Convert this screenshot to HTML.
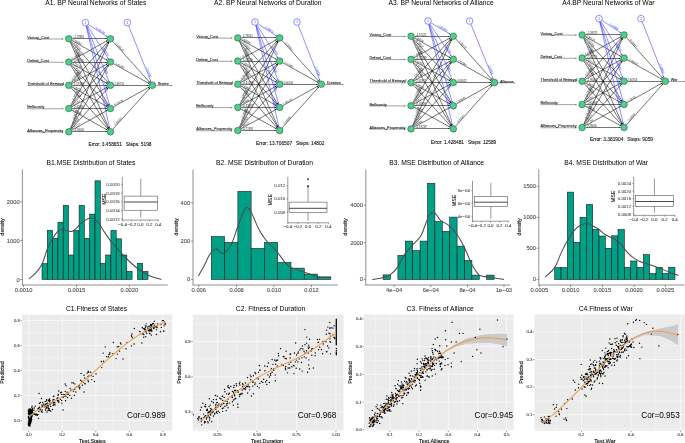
<!DOCTYPE html>
<html><head><meta charset="utf-8"><title>BP Neural Networks</title>
<style>html,body{margin:0;padding:0;background:#fff;width:685px;height:443px;overflow:hidden}svg{display:block;will-change:transform}text{font-family:"Liberation Sans",sans-serif}</style>
</head><body>
<svg width="685" height="443" viewBox="0 0 685 443" font-family='"Liberation Sans", sans-serif'><line x1="27.2" y1="39" x2="63.4" y2="39" stroke="#555" stroke-width="0.55"/>
<path d="M63.4 39 L62 38.4 L62 39.6Z" fill="#555"/>
<text x="27.2" y="38.7" font-size="3.9" text-anchor="start" fill="#222" stroke="#222" stroke-width="0.1">Victory_Cost</text>
<line x1="27.2" y1="62.25" x2="63.4" y2="62.25" stroke="#555" stroke-width="0.55"/>
<path d="M63.4 62.25 L62 61.65 L62 62.85Z" fill="#555"/>
<text x="27.2" y="61.95" font-size="3.9" text-anchor="start" fill="#222" stroke="#222" stroke-width="0.1">Defeat_Cost</text>
<line x1="27.2" y1="85.5" x2="63.4" y2="85.5" stroke="#555" stroke-width="0.55"/>
<path d="M63.4 85.5 L62 84.9 L62 86.1Z" fill="#555"/>
<text x="27.2" y="85.2" font-size="3.9" text-anchor="start" fill="#222" stroke="#222" stroke-width="0.1">Threshold of Betrayal</text>
<line x1="27.2" y1="108.75" x2="63.4" y2="108.75" stroke="#555" stroke-width="0.55"/>
<path d="M63.4 108.75 L62 108.15 L62 109.35Z" fill="#555"/>
<text x="27.2" y="108.45" font-size="3.9" text-anchor="start" fill="#222" stroke="#222" stroke-width="0.1">Bellicosity</text>
<line x1="27.2" y1="132" x2="63.4" y2="132" stroke="#555" stroke-width="0.55"/>
<path d="M63.4 132 L62 131.4 L62 132.6Z" fill="#555"/>
<text x="27.2" y="131.7" font-size="3.9" text-anchor="start" fill="#222" stroke="#222" stroke-width="0.1">Alliances_Propensity</text>
<line x1="72.3" y1="38.5" x2="107" y2="38.5" stroke="#000" stroke-width="0.55"/>
<path d="M107 38.5 L105.5 37.9 L105.5 39.1Z" fill="#000"/>
<line x1="71.86" y1="40.5" x2="107.44" y2="60.35" stroke="#000" stroke-width="0.55"/>
<path d="M107.44 60.35 L106.43 59.09 L105.84 60.14Z" fill="#000"/>
<line x1="71.14" y1="41.41" x2="108.16" y2="82.69" stroke="#000" stroke-width="0.55"/>
<path d="M108.16 82.69 L107.61 81.18 L106.72 81.98Z" fill="#000"/>
<line x1="70.6" y1="41.8" x2="108.7" y2="105.55" stroke="#000" stroke-width="0.55"/>
<path d="M108.7 105.55 L108.45 103.95 L107.42 104.57Z" fill="#000"/>
<line x1="70.23" y1="41.99" x2="109.07" y2="128.61" stroke="#000" stroke-width="0.55"/>
<path d="M109.07 128.61 L109 126.99 L107.91 127.48Z" fill="#000"/>
<line x1="71.86" y1="60.35" x2="107.44" y2="40.5" stroke="#000" stroke-width="0.55"/>
<path d="M107.44 40.5 L105.84 40.71 L106.43 41.76Z" fill="#000"/>
<line x1="72.3" y1="62.5" x2="107" y2="62.5" stroke="#000" stroke-width="0.55"/>
<path d="M107 62.5 L105.5 61.9 L105.5 63.1Z" fill="#000"/>
<line x1="71.86" y1="63.75" x2="107.44" y2="83.6" stroke="#000" stroke-width="0.55"/>
<path d="M107.44 83.6 L106.43 82.34 L105.84 83.39Z" fill="#000"/>
<line x1="71.14" y1="64.66" x2="108.16" y2="105.94" stroke="#000" stroke-width="0.55"/>
<path d="M108.16 105.94 L107.61 104.43 L106.72 105.23Z" fill="#000"/>
<line x1="70.6" y1="65.05" x2="108.7" y2="128.8" stroke="#000" stroke-width="0.55"/>
<path d="M108.7 128.8 L108.45 127.2 L107.42 127.82Z" fill="#000"/>
<line x1="71.14" y1="82.69" x2="108.16" y2="41.41" stroke="#000" stroke-width="0.55"/>
<path d="M108.16 41.41 L106.72 42.12 L107.61 42.92Z" fill="#000"/>
<line x1="71.86" y1="83.6" x2="107.44" y2="63.75" stroke="#000" stroke-width="0.55"/>
<path d="M107.44 63.75 L105.84 63.96 L106.43 65.01Z" fill="#000"/>
<line x1="72.3" y1="85.5" x2="107" y2="85.5" stroke="#000" stroke-width="0.55"/>
<path d="M107 85.5 L105.5 84.9 L105.5 86.1Z" fill="#000"/>
<line x1="71.86" y1="87" x2="107.44" y2="106.85" stroke="#000" stroke-width="0.55"/>
<path d="M107.44 106.85 L106.43 105.59 L105.84 106.64Z" fill="#000"/>
<line x1="71.14" y1="87.91" x2="108.16" y2="129.19" stroke="#000" stroke-width="0.55"/>
<path d="M108.16 129.19 L107.61 127.68 L106.72 128.48Z" fill="#000"/>
<line x1="70.6" y1="105.55" x2="108.7" y2="41.8" stroke="#000" stroke-width="0.55"/>
<path d="M108.7 41.8 L107.42 42.78 L108.45 43.4Z" fill="#000"/>
<line x1="71.14" y1="105.94" x2="108.16" y2="64.66" stroke="#000" stroke-width="0.55"/>
<path d="M108.16 64.66 L106.72 65.37 L107.61 66.17Z" fill="#000"/>
<line x1="71.86" y1="106.85" x2="107.44" y2="87" stroke="#000" stroke-width="0.55"/>
<path d="M107.44 87 L105.84 87.21 L106.43 88.26Z" fill="#000"/>
<line x1="72.3" y1="108.5" x2="107" y2="108.5" stroke="#000" stroke-width="0.55"/>
<path d="M107 108.5 L105.5 107.9 L105.5 109.1Z" fill="#000"/>
<line x1="71.86" y1="110.25" x2="107.44" y2="130.1" stroke="#000" stroke-width="0.55"/>
<path d="M107.44 130.1 L106.43 128.84 L105.84 129.89Z" fill="#000"/>
<line x1="70.23" y1="128.61" x2="109.07" y2="41.99" stroke="#000" stroke-width="0.55"/>
<path d="M109.07 41.99 L107.91 43.12 L109 43.61Z" fill="#000"/>
<line x1="70.6" y1="128.8" x2="108.7" y2="65.05" stroke="#000" stroke-width="0.55"/>
<path d="M108.7 65.05 L107.42 66.03 L108.45 66.65Z" fill="#000"/>
<line x1="71.14" y1="129.19" x2="108.16" y2="87.91" stroke="#000" stroke-width="0.55"/>
<path d="M108.16 87.91 L106.72 88.62 L107.61 89.42Z" fill="#000"/>
<line x1="71.86" y1="130.1" x2="107.44" y2="110.25" stroke="#000" stroke-width="0.55"/>
<path d="M107.44 110.25 L105.84 110.46 L106.43 111.51Z" fill="#000"/>
<line x1="72.3" y1="131.5" x2="107" y2="131.5" stroke="#000" stroke-width="0.55"/>
<path d="M107 131.5 L105.5 130.9 L105.5 132.1Z" fill="#000"/>
<text x="78.81" y="38.3" font-size="2.7" text-anchor="middle" fill="#222" transform="rotate(0 78.81 38.3)">-2.19381</text>
<text x="76.55" y="42.55" font-size="2.7" text-anchor="middle" fill="#222" transform="rotate(29.14 76.55 42.55)">2.08460</text>
<text x="76.68" y="46.84" font-size="2.7" text-anchor="middle" fill="#222" transform="rotate(48.12 76.68 46.84)">1.58265</text>
<text x="76.74" y="51.1" font-size="2.7" text-anchor="middle" fill="#222" transform="rotate(59.13 76.74 51.1)">-1.46959</text>
<text x="76.76" y="55.34" font-size="2.7" text-anchor="middle" fill="#222" transform="rotate(65.85 76.76 55.34)">-0.02739</text>
<text x="76.06" y="57.43" font-size="2.7" text-anchor="middle" fill="#222" transform="rotate(-29.14 76.06 57.43)">-0.30305</text>
<text x="78.81" y="61.55" font-size="2.7" text-anchor="middle" fill="#222" transform="rotate(0 78.81 61.55)">0.90956</text>
<text x="76.55" y="65.8" font-size="2.7" text-anchor="middle" fill="#222" transform="rotate(29.14 76.55 65.8)">1.73234</text>
<text x="76.68" y="70.09" font-size="2.7" text-anchor="middle" fill="#222" transform="rotate(48.12 76.68 70.09)">-2.43684</text>
<text x="76.74" y="74.35" font-size="2.7" text-anchor="middle" fill="#222" transform="rotate(59.13 76.74 74.35)">-2.82992</text>
<text x="75.93" y="76.6" font-size="2.7" text-anchor="middle" fill="#222" transform="rotate(-48.12 75.93 76.6)">2.01459</text>
<text x="76.06" y="80.68" font-size="2.7" text-anchor="middle" fill="#222" transform="rotate(-29.14 76.06 80.68)">-0.40340</text>
<text x="78.81" y="84.8" font-size="2.7" text-anchor="middle" fill="#222" transform="rotate(0 78.81 84.8)">1.57368</text>
<text x="76.55" y="89.05" font-size="2.7" text-anchor="middle" fill="#222" transform="rotate(29.14 76.55 89.05)">-2.98736</text>
<text x="76.68" y="93.34" font-size="2.7" text-anchor="middle" fill="#222" transform="rotate(48.12 76.68 93.34)">-0.32768</text>
<text x="75.88" y="95.74" font-size="2.7" text-anchor="middle" fill="#222" transform="rotate(-59.13 75.88 95.74)">1.32924</text>
<text x="75.93" y="99.85" font-size="2.7" text-anchor="middle" fill="#222" transform="rotate(-48.12 75.93 99.85)">-1.62743</text>
<text x="76.06" y="103.93" font-size="2.7" text-anchor="middle" fill="#222" transform="rotate(-29.14 76.06 103.93)">2.67162</text>
<text x="78.81" y="108.05" font-size="2.7" text-anchor="middle" fill="#222" transform="rotate(0 78.81 108.05)">2.40856</text>
<text x="76.55" y="112.3" font-size="2.7" text-anchor="middle" fill="#222" transform="rotate(29.14 76.55 112.3)">-2.81646</text>
<text x="75.85" y="114.86" font-size="2.7" text-anchor="middle" fill="#222" transform="rotate(-65.85 75.85 114.86)">-2.84732</text>
<text x="75.88" y="118.99" font-size="2.7" text-anchor="middle" fill="#222" transform="rotate(-59.13 75.88 118.99)">0.24847</text>
<text x="75.93" y="123.1" font-size="2.7" text-anchor="middle" fill="#222" transform="rotate(-48.12 75.93 123.1)">2.63489</text>
<text x="76.06" y="127.18" font-size="2.7" text-anchor="middle" fill="#222" transform="rotate(-29.14 76.06 127.18)">-0.71277</text>
<text x="78.81" y="131.3" font-size="2.7" text-anchor="middle" fill="#222" transform="rotate(0 78.81 131.3)">-1.70040</text>
<line x1="88.34" y1="24.5" x2="107.56" y2="36.9" stroke="#2222ff" stroke-width="0.5"/>
<path d="M107.56 36.9 L106.62 35.58 L105.97 36.59Z" fill="#2222ff"/>
<text x="99.48" y="31.09" font-size="2.7" text-anchor="middle" fill="#2222ff" transform="rotate(32.84 99.48 31.09)">-0.46730</text>
<line x1="87.28" y1="25.55" x2="108.62" y2="59.1" stroke="#2222ff" stroke-width="0.5"/>
<path d="M108.62 59.1 L108.32 57.51 L107.31 58.15Z" fill="#2222ff"/>
<text x="104.65" y="51.92" font-size="2.7" text-anchor="middle" fill="#2222ff" transform="rotate(57.53 104.65 51.92)">-2.82576</text>
<line x1="86.7" y1="25.85" x2="109.2" y2="82.05" stroke="#2222ff" stroke-width="0.5"/>
<path d="M109.2 82.05 L109.2 80.44 L108.08 80.88Z" fill="#2222ff"/>
<text x="104.69" y="69.44" font-size="2.7" text-anchor="middle" fill="#2222ff" transform="rotate(68.18 104.69 69.44)">-1.66985</text>
<line x1="86.38" y1="25.96" x2="109.52" y2="105.19" stroke="#2222ff" stroke-width="0.5"/>
<path d="M109.52 105.19 L109.67 103.58 L108.52 103.92Z" fill="#2222ff"/>
<text x="104.7" y="86.92" font-size="2.7" text-anchor="middle" fill="#2222ff" transform="rotate(73.72 104.7 86.92)">-0.37267</text>
<line x1="86.18" y1="26.01" x2="109.72" y2="128.39" stroke="#2222ff" stroke-width="0.5"/>
<path d="M109.72 128.39 L109.96 126.79 L108.8 127.06Z" fill="#2222ff"/>
<text x="104.71" y="104.39" font-size="2.7" text-anchor="middle" fill="#2222ff" transform="rotate(77.06 104.71 104.39)">-0.02513</text>
<line x1="112.84" y1="41.4" x2="150.06" y2="82.7" stroke="#000" stroke-width="0.55"/>
<path d="M150.06 82.7 L149.5 81.18 L148.61 81.99Z" fill="#000"/>
<text x="119.25" y="47.77" font-size="2.7" text-anchor="middle" fill="#222" transform="rotate(47.98 119.25 47.77)">-1.60149</text>
<line x1="113.56" y1="63.75" x2="149.34" y2="83.6" stroke="#000" stroke-width="0.55"/>
<path d="M149.34 83.6 L148.32 82.35 L147.74 83.4Z" fill="#000"/>
<text x="119.12" y="66.26" font-size="2.7" text-anchor="middle" fill="#222" transform="rotate(29.03 119.12 66.26)">-1.61480</text>
<line x1="114" y1="85.5" x2="148.9" y2="85.5" stroke="#000" stroke-width="0.55"/>
<path d="M148.9 85.5 L147.4 84.9 L147.4 86.1Z" fill="#000"/>
<text x="118.88" y="85" font-size="2.7" text-anchor="middle" fill="#222" transform="rotate(0 118.88 85)">-1.68731</text>
<line x1="113.56" y1="106.85" x2="149.34" y2="87" stroke="#000" stroke-width="0.55"/>
<path d="M149.34 87 L147.74 87.2 L148.32 88.25Z" fill="#000"/>
<text x="118.64" y="103.46" font-size="2.7" text-anchor="middle" fill="#222" transform="rotate(-29.03 118.64 103.46)">-0.24238</text>
<line x1="112.84" y1="129.2" x2="150.06" y2="87.9" stroke="#000" stroke-width="0.55"/>
<path d="M150.06 87.9 L148.61 88.61 L149.5 89.42Z" fill="#000"/>
<text x="118.51" y="122.17" font-size="2.7" text-anchor="middle" fill="#222" transform="rotate(-47.98 118.51 122.17)">-1.26131</text>
<line x1="128.6" y1="25.85" x2="151.1" y2="82.05" stroke="#2222ff" stroke-width="0.5"/>
<path d="M151.1 82.05 L151.1 80.44 L149.98 80.88Z" fill="#2222ff"/>
<text x="147.84" y="72.57" font-size="2.7" text-anchor="middle" fill="#2222ff" transform="rotate(68.18 147.84 72.57)">-2.87106</text>
<line x1="155.9" y1="85.6" x2="172.2" y2="85.6" stroke="#555" stroke-width="0.55"/>
<path d="M172.2 85.6 L170.8 85 L170.8 86.2Z" fill="#555"/>
<text x="157.8" y="85.4" font-size="3.8" text-anchor="start" fill="#222" stroke="#222" stroke-width="0.1">States</text>
<circle cx="68.8" cy="38.8" r="3.25" fill="#4fcf8a" stroke="#1f5a38" stroke-width="0.6"/>
<circle cx="110.5" cy="38.8" r="3.25" fill="#4fcf8a" stroke="#1f5a38" stroke-width="0.6"/>
<circle cx="68.8" cy="62.05" r="3.25" fill="#4fcf8a" stroke="#1f5a38" stroke-width="0.6"/>
<circle cx="110.5" cy="62.05" r="3.25" fill="#4fcf8a" stroke="#1f5a38" stroke-width="0.6"/>
<circle cx="68.8" cy="85.3" r="3.25" fill="#4fcf8a" stroke="#1f5a38" stroke-width="0.6"/>
<circle cx="110.5" cy="85.3" r="3.25" fill="#4fcf8a" stroke="#1f5a38" stroke-width="0.6"/>
<circle cx="68.8" cy="108.55" r="3.25" fill="#4fcf8a" stroke="#1f5a38" stroke-width="0.6"/>
<circle cx="110.5" cy="108.55" r="3.25" fill="#4fcf8a" stroke="#1f5a38" stroke-width="0.6"/>
<circle cx="68.8" cy="131.8" r="3.25" fill="#4fcf8a" stroke="#1f5a38" stroke-width="0.6"/>
<circle cx="110.5" cy="131.8" r="3.25" fill="#4fcf8a" stroke="#1f5a38" stroke-width="0.6"/>
<circle cx="152.4" cy="85.3" r="3.25" fill="#4fcf8a" stroke="#1f5a38" stroke-width="0.6"/>
<circle cx="85.4" cy="22.6" r="3.3" fill="#fff" stroke="#2222ff" stroke-width="0.5"/>
<text x="85.4" y="23.6" font-size="2.8" text-anchor="middle" fill="#2222ff">1</text>
<circle cx="127.3" cy="22.6" r="3.3" fill="#fff" stroke="#2222ff" stroke-width="0.5"/>
<text x="127.3" y="23.6" font-size="2.8" text-anchor="middle" fill="#2222ff">1</text>
<text x="95.9" y="5" font-size="6.75" text-anchor="middle" fill="#000">A1. BP Neural Networks of States</text>
<text x="120" y="145.6" font-size="4.8" text-anchor="middle" fill="#111" stroke="#111" stroke-width="0.1" xml:space="preserve">Error: 3.458651   Steps: 5198</text>
<line x1="196.2" y1="38.1" x2="232.4" y2="38.1" stroke="#555" stroke-width="0.55"/>
<path d="M232.4 38.1 L231 37.5 L231 38.7Z" fill="#555"/>
<text x="196.2" y="37.8" font-size="3.9" text-anchor="start" fill="#222" stroke="#222" stroke-width="0.1">Victory_Cost</text>
<line x1="196.2" y1="61.27" x2="232.4" y2="61.27" stroke="#555" stroke-width="0.55"/>
<path d="M232.4 61.27 L231 60.67 L231 61.87Z" fill="#555"/>
<text x="196.2" y="60.97" font-size="3.9" text-anchor="start" fill="#222" stroke="#222" stroke-width="0.1">Defeat_Cost</text>
<line x1="196.2" y1="84.44" x2="232.4" y2="84.44" stroke="#555" stroke-width="0.55"/>
<path d="M232.4 84.44 L231 83.84 L231 85.04Z" fill="#555"/>
<text x="196.2" y="84.14" font-size="3.9" text-anchor="start" fill="#222" stroke="#222" stroke-width="0.1">Threshold of Betrayal</text>
<line x1="196.2" y1="107.61" x2="232.4" y2="107.61" stroke="#555" stroke-width="0.55"/>
<path d="M232.4 107.61 L231 107.01 L231 108.21Z" fill="#555"/>
<text x="196.2" y="107.31" font-size="3.9" text-anchor="start" fill="#222" stroke="#222" stroke-width="0.1">Bellicosity</text>
<line x1="196.2" y1="130.78" x2="232.4" y2="130.78" stroke="#555" stroke-width="0.55"/>
<path d="M232.4 130.78 L231 130.18 L231 131.38Z" fill="#555"/>
<text x="196.2" y="130.48" font-size="3.9" text-anchor="start" fill="#222" stroke="#222" stroke-width="0.1">Alliances_Propensity</text>
<line x1="241.3" y1="37.5" x2="276.2" y2="37.5" stroke="#000" stroke-width="0.55"/>
<path d="M276.2 37.5 L274.7 36.9 L274.7 38.1Z" fill="#000"/>
<line x1="240.86" y1="39.59" x2="276.64" y2="59.38" stroke="#000" stroke-width="0.55"/>
<path d="M276.64 59.38 L275.61 58.13 L275.03 59.18Z" fill="#000"/>
<line x1="240.15" y1="40.5" x2="277.35" y2="81.64" stroke="#000" stroke-width="0.55"/>
<path d="M277.35 81.64 L276.79 80.13 L275.9 80.93Z" fill="#000"/>
<line x1="239.61" y1="40.9" x2="277.89" y2="104.41" stroke="#000" stroke-width="0.55"/>
<path d="M277.89 104.41 L277.63 102.82 L276.6 103.44Z" fill="#000"/>
<line x1="239.24" y1="41.09" x2="278.26" y2="127.39" stroke="#000" stroke-width="0.55"/>
<path d="M278.26 127.39 L278.19 125.78 L277.09 126.27Z" fill="#000"/>
<line x1="240.86" y1="59.38" x2="276.64" y2="39.59" stroke="#000" stroke-width="0.55"/>
<path d="M276.64 39.59 L275.03 39.79 L275.61 40.84Z" fill="#000"/>
<line x1="241.3" y1="61.5" x2="276.2" y2="61.5" stroke="#000" stroke-width="0.55"/>
<path d="M276.2 61.5 L274.7 60.9 L274.7 62.1Z" fill="#000"/>
<line x1="240.86" y1="62.76" x2="276.64" y2="82.55" stroke="#000" stroke-width="0.55"/>
<path d="M276.64 82.55 L275.61 81.3 L275.03 82.35Z" fill="#000"/>
<line x1="240.15" y1="63.67" x2="277.35" y2="104.81" stroke="#000" stroke-width="0.55"/>
<path d="M277.35 104.81 L276.79 103.3 L275.9 104.1Z" fill="#000"/>
<line x1="239.61" y1="64.07" x2="277.89" y2="127.58" stroke="#000" stroke-width="0.55"/>
<path d="M277.89 127.58 L277.63 125.99 L276.6 126.61Z" fill="#000"/>
<line x1="240.15" y1="81.64" x2="277.35" y2="40.5" stroke="#000" stroke-width="0.55"/>
<path d="M277.35 40.5 L275.9 41.21 L276.79 42.01Z" fill="#000"/>
<line x1="240.86" y1="82.55" x2="276.64" y2="62.76" stroke="#000" stroke-width="0.55"/>
<path d="M276.64 62.76 L275.03 62.96 L275.61 64.01Z" fill="#000"/>
<line x1="241.3" y1="84.5" x2="276.2" y2="84.5" stroke="#000" stroke-width="0.55"/>
<path d="M276.2 84.5 L274.7 83.9 L274.7 85.1Z" fill="#000"/>
<line x1="240.86" y1="85.93" x2="276.64" y2="105.72" stroke="#000" stroke-width="0.55"/>
<path d="M276.64 105.72 L275.61 104.47 L275.03 105.52Z" fill="#000"/>
<line x1="240.15" y1="86.84" x2="277.35" y2="127.98" stroke="#000" stroke-width="0.55"/>
<path d="M277.35 127.98 L276.79 126.47 L275.9 127.27Z" fill="#000"/>
<line x1="239.61" y1="104.41" x2="277.89" y2="40.9" stroke="#000" stroke-width="0.55"/>
<path d="M277.89 40.9 L276.6 41.87 L277.63 42.49Z" fill="#000"/>
<line x1="240.15" y1="104.81" x2="277.35" y2="63.67" stroke="#000" stroke-width="0.55"/>
<path d="M277.35 63.67 L275.9 64.38 L276.79 65.18Z" fill="#000"/>
<line x1="240.86" y1="105.72" x2="276.64" y2="85.93" stroke="#000" stroke-width="0.55"/>
<path d="M276.64 85.93 L275.03 86.13 L275.61 87.18Z" fill="#000"/>
<line x1="241.3" y1="107.5" x2="276.2" y2="107.5" stroke="#000" stroke-width="0.55"/>
<path d="M276.2 107.5 L274.7 106.9 L274.7 108.1Z" fill="#000"/>
<line x1="240.86" y1="109.1" x2="276.64" y2="128.89" stroke="#000" stroke-width="0.55"/>
<path d="M276.64 128.89 L275.61 127.64 L275.03 128.69Z" fill="#000"/>
<line x1="239.24" y1="127.39" x2="278.26" y2="41.09" stroke="#000" stroke-width="0.55"/>
<path d="M278.26 41.09 L277.09 42.21 L278.19 42.7Z" fill="#000"/>
<line x1="239.61" y1="127.58" x2="277.89" y2="64.07" stroke="#000" stroke-width="0.55"/>
<path d="M277.89 64.07 L276.6 65.04 L277.63 65.66Z" fill="#000"/>
<line x1="240.15" y1="127.98" x2="277.35" y2="86.84" stroke="#000" stroke-width="0.55"/>
<path d="M277.35 86.84 L275.9 87.55 L276.79 88.35Z" fill="#000"/>
<line x1="240.86" y1="128.89" x2="276.64" y2="109.1" stroke="#000" stroke-width="0.55"/>
<path d="M276.64 109.1 L275.03 109.3 L275.61 110.35Z" fill="#000"/>
<line x1="241.3" y1="130.5" x2="276.2" y2="130.5" stroke="#000" stroke-width="0.55"/>
<path d="M276.2 130.5 L274.7 129.9 L274.7 131.1Z" fill="#000"/>
<text x="247.86" y="37.4" font-size="2.7" text-anchor="middle" fill="#222" transform="rotate(0 247.86 37.4)">2.73621</text>
<text x="245.58" y="41.63" font-size="2.7" text-anchor="middle" fill="#222" transform="rotate(28.94 245.58 41.63)">2.68696</text>
<text x="245.71" y="45.91" font-size="2.7" text-anchor="middle" fill="#222" transform="rotate(47.88 245.71 45.91)">-2.66069</text>
<text x="245.77" y="50.15" font-size="2.7" text-anchor="middle" fill="#222" transform="rotate(58.92 245.77 50.15)">-2.49077</text>
<text x="245.8" y="54.38" font-size="2.7" text-anchor="middle" fill="#222" transform="rotate(65.67 245.8 54.38)">2.01299</text>
<text x="245.1" y="56.46" font-size="2.7" text-anchor="middle" fill="#222" transform="rotate(-28.94 245.1 56.46)">1.41582</text>
<text x="247.86" y="60.57" font-size="2.7" text-anchor="middle" fill="#222" transform="rotate(0 247.86 60.57)">1.01838</text>
<text x="245.58" y="64.8" font-size="2.7" text-anchor="middle" fill="#222" transform="rotate(28.94 245.58 64.8)">-1.15118</text>
<text x="245.71" y="69.08" font-size="2.7" text-anchor="middle" fill="#222" transform="rotate(47.88 245.71 69.08)">0.63566</text>
<text x="245.77" y="73.32" font-size="2.7" text-anchor="middle" fill="#222" transform="rotate(58.92 245.77 73.32)">0.64081</text>
<text x="244.97" y="75.56" font-size="2.7" text-anchor="middle" fill="#222" transform="rotate(-47.88 244.97 75.56)">0.48722</text>
<text x="245.1" y="79.63" font-size="2.7" text-anchor="middle" fill="#222" transform="rotate(-28.94 245.1 79.63)">-2.04970</text>
<text x="247.86" y="83.74" font-size="2.7" text-anchor="middle" fill="#222" transform="rotate(0 247.86 83.74)">-0.41598</text>
<text x="245.58" y="87.97" font-size="2.7" text-anchor="middle" fill="#222" transform="rotate(28.94 245.58 87.97)">-0.63881</text>
<text x="245.71" y="92.25" font-size="2.7" text-anchor="middle" fill="#222" transform="rotate(47.88 245.71 92.25)">1.33807</text>
<text x="244.91" y="94.64" font-size="2.7" text-anchor="middle" fill="#222" transform="rotate(-58.92 244.91 94.64)">2.96892</text>
<text x="244.97" y="98.73" font-size="2.7" text-anchor="middle" fill="#222" transform="rotate(-47.88 244.97 98.73)">2.69637</text>
<text x="245.1" y="102.8" font-size="2.7" text-anchor="middle" fill="#222" transform="rotate(-28.94 245.1 102.8)">0.26506</text>
<text x="247.86" y="106.91" font-size="2.7" text-anchor="middle" fill="#222" transform="rotate(0 247.86 106.91)">-0.33087</text>
<text x="245.58" y="111.14" font-size="2.7" text-anchor="middle" fill="#222" transform="rotate(28.94 245.58 111.14)">-1.39056</text>
<text x="244.89" y="113.69" font-size="2.7" text-anchor="middle" fill="#222" transform="rotate(-65.67 244.89 113.69)">-2.78445</text>
<text x="244.91" y="117.81" font-size="2.7" text-anchor="middle" fill="#222" transform="rotate(-58.92 244.91 117.81)">-2.83533</text>
<text x="244.97" y="121.9" font-size="2.7" text-anchor="middle" fill="#222" transform="rotate(-47.88 244.97 121.9)">-0.21064</text>
<text x="245.1" y="125.97" font-size="2.7" text-anchor="middle" fill="#222" transform="rotate(-28.94 245.1 125.97)">-1.08921</text>
<text x="247.86" y="130.08" font-size="2.7" text-anchor="middle" fill="#222" transform="rotate(0 247.86 130.08)">-0.71991</text>
<line x1="257.94" y1="23.89" x2="276.76" y2="36.01" stroke="#2222ff" stroke-width="0.5"/>
<path d="M276.76 36.01 L275.82 34.69 L275.17 35.7Z" fill="#2222ff"/>
<text x="268.86" y="30.32" font-size="2.7" text-anchor="middle" fill="#2222ff" transform="rotate(32.77 268.86 30.32)">2.35074</text>
<line x1="256.87" y1="24.96" x2="277.83" y2="58.11" stroke="#2222ff" stroke-width="0.5"/>
<path d="M277.83 58.11 L277.54 56.52 L276.52 57.16Z" fill="#2222ff"/>
<text x="273.95" y="51.04" font-size="2.7" text-anchor="middle" fill="#2222ff" transform="rotate(57.7 273.95 51.04)">0.15452</text>
<line x1="256.29" y1="25.25" x2="278.41" y2="80.99" stroke="#2222ff" stroke-width="0.5"/>
<path d="M278.41 80.99 L278.41 79.37 L277.3 79.81Z" fill="#2222ff"/>
<text x="273.99" y="68.5" font-size="2.7" text-anchor="middle" fill="#2222ff" transform="rotate(68.35 273.99 68.5)">0.36306</text>
<line x1="255.97" y1="25.36" x2="278.73" y2="104.05" stroke="#2222ff" stroke-width="0.5"/>
<path d="M278.73 104.05 L278.89 102.44 L277.73 102.77Z" fill="#2222ff"/>
<text x="274.01" y="85.92" font-size="2.7" text-anchor="middle" fill="#2222ff" transform="rotate(73.87 274.01 85.92)">-1.58326</text>
<line x1="255.78" y1="25.41" x2="278.92" y2="127.17" stroke="#2222ff" stroke-width="0.5"/>
<path d="M278.92 127.17 L279.18 125.57 L278.01 125.84Z" fill="#2222ff"/>
<text x="274.01" y="103.32" font-size="2.7" text-anchor="middle" fill="#2222ff" transform="rotate(77.18 274.01 103.32)">-2.85685</text>
<line x1="282.04" y1="40.5" x2="318.96" y2="81.6" stroke="#000" stroke-width="0.55"/>
<path d="M318.96 81.6 L318.4 80.08 L317.51 80.88Z" fill="#000"/>
<text x="288.39" y="46.83" font-size="2.7" text-anchor="middle" fill="#222" transform="rotate(48.06 288.39 46.83)">-1.04914</text>
<line x1="282.76" y1="62.77" x2="318.24" y2="82.5" stroke="#000" stroke-width="0.55"/>
<path d="M318.24 82.5 L317.22 81.25 L316.64 82.29Z" fill="#000"/>
<text x="288.26" y="65.26" font-size="2.7" text-anchor="middle" fill="#222" transform="rotate(29.07 288.26 65.26)">-2.17982</text>
<line x1="283.2" y1="84.5" x2="317.8" y2="84.5" stroke="#000" stroke-width="0.55"/>
<path d="M317.8 84.5 L316.3 83.9 L316.3 85.1Z" fill="#000"/>
<text x="288.02" y="84" font-size="2.7" text-anchor="middle" fill="#222" transform="rotate(0 288.02 84)">0.06134</text>
<line x1="282.76" y1="105.7" x2="318.24" y2="85.91" stroke="#000" stroke-width="0.55"/>
<path d="M318.24 85.91 L316.64 86.11 L317.23 87.16Z" fill="#000"/>
<text x="287.78" y="102.33" font-size="2.7" text-anchor="middle" fill="#222" transform="rotate(-29.16 287.78 102.33)">2.99210</text>
<line x1="282.04" y1="127.97" x2="318.96" y2="86.81" stroke="#000" stroke-width="0.55"/>
<path d="M318.96 86.81 L317.51 87.52 L318.41 88.32Z" fill="#000"/>
<text x="287.65" y="120.97" font-size="2.7" text-anchor="middle" fill="#222" transform="rotate(-48.11 287.65 120.97)">1.04688</text>
<line x1="298.27" y1="25.26" x2="320.03" y2="80.94" stroke="#2222ff" stroke-width="0.5"/>
<path d="M320.03 80.94 L320.04 79.32 L318.92 79.76Z" fill="#2222ff"/>
<text x="316.91" y="71.58" font-size="2.7" text-anchor="middle" fill="#2222ff" transform="rotate(68.66 316.91 71.58)">-1.90894</text>
<line x1="324.8" y1="84.5" x2="343.3" y2="84.5" stroke="#555" stroke-width="0.55"/>
<path d="M343.3 84.5 L341.9 83.9 L341.9 85.1Z" fill="#555"/>
<text x="326.7" y="84.3" font-size="3.8" text-anchor="start" fill="#222" stroke="#222" stroke-width="0.1">Duration</text>
<circle cx="237.8" cy="37.9" r="3.25" fill="#4fcf8a" stroke="#1f5a38" stroke-width="0.6"/>
<circle cx="279.7" cy="37.9" r="3.25" fill="#4fcf8a" stroke="#1f5a38" stroke-width="0.6"/>
<circle cx="237.8" cy="61.07" r="3.25" fill="#4fcf8a" stroke="#1f5a38" stroke-width="0.6"/>
<circle cx="279.7" cy="61.07" r="3.25" fill="#4fcf8a" stroke="#1f5a38" stroke-width="0.6"/>
<circle cx="237.8" cy="84.24" r="3.25" fill="#4fcf8a" stroke="#1f5a38" stroke-width="0.6"/>
<circle cx="279.7" cy="84.24" r="3.25" fill="#4fcf8a" stroke="#1f5a38" stroke-width="0.6"/>
<circle cx="237.8" cy="107.41" r="3.25" fill="#4fcf8a" stroke="#1f5a38" stroke-width="0.6"/>
<circle cx="279.7" cy="107.41" r="3.25" fill="#4fcf8a" stroke="#1f5a38" stroke-width="0.6"/>
<circle cx="237.8" cy="130.58" r="3.25" fill="#4fcf8a" stroke="#1f5a38" stroke-width="0.6"/>
<circle cx="279.7" cy="130.58" r="3.25" fill="#4fcf8a" stroke="#1f5a38" stroke-width="0.6"/>
<circle cx="321.3" cy="84.2" r="3.25" fill="#4fcf8a" stroke="#1f5a38" stroke-width="0.6"/>
<circle cx="255" cy="22" r="3.3" fill="#fff" stroke="#2222ff" stroke-width="0.5"/>
<text x="255" y="23" font-size="2.8" text-anchor="middle" fill="#2222ff">1</text>
<circle cx="297" cy="22" r="3.3" fill="#fff" stroke="#2222ff" stroke-width="0.5"/>
<text x="297" y="23" font-size="2.8" text-anchor="middle" fill="#2222ff">1</text>
<text x="267.8" y="5" font-size="6.75" text-anchor="middle" fill="#000">A2. BP Neural Networks of Duration</text>
<text x="290.2" y="145" font-size="4.8" text-anchor="middle" fill="#111" stroke="#111" stroke-width="0.1" xml:space="preserve">Error: 13.706507   Steps: 14802</text>
<line x1="369.4" y1="36.4" x2="405.6" y2="36.4" stroke="#555" stroke-width="0.55"/>
<path d="M405.6 36.4 L404.2 35.8 L404.2 37Z" fill="#555"/>
<text x="369.4" y="36.1" font-size="3.9" text-anchor="start" fill="#222" stroke="#222" stroke-width="0.1">Victory_Cost</text>
<line x1="369.4" y1="59.57" x2="405.6" y2="59.57" stroke="#555" stroke-width="0.55"/>
<path d="M405.6 59.57 L404.2 58.97 L404.2 60.17Z" fill="#555"/>
<text x="369.4" y="59.27" font-size="3.9" text-anchor="start" fill="#222" stroke="#222" stroke-width="0.1">Defeat_Cost</text>
<line x1="369.4" y1="82.74" x2="405.6" y2="82.74" stroke="#555" stroke-width="0.55"/>
<path d="M405.6 82.74 L404.2 82.14 L404.2 83.34Z" fill="#555"/>
<text x="369.4" y="82.44" font-size="3.9" text-anchor="start" fill="#222" stroke="#222" stroke-width="0.1">Threshold of Betrayal</text>
<line x1="369.4" y1="105.91" x2="405.6" y2="105.91" stroke="#555" stroke-width="0.55"/>
<path d="M405.6 105.91 L404.2 105.31 L404.2 106.51Z" fill="#555"/>
<text x="369.4" y="105.61" font-size="3.9" text-anchor="start" fill="#222" stroke="#222" stroke-width="0.1">Bellicosity</text>
<line x1="369.4" y1="129.08" x2="405.6" y2="129.08" stroke="#555" stroke-width="0.55"/>
<path d="M405.6 129.08 L404.2 128.48 L404.2 129.68Z" fill="#555"/>
<text x="369.4" y="128.78" font-size="3.9" text-anchor="start" fill="#222" stroke="#222" stroke-width="0.1">Alliances_Propensity</text>
<line x1="414.5" y1="36.5" x2="449.8" y2="36.5" stroke="#000" stroke-width="0.55"/>
<path d="M449.8 36.5 L448.3 35.9 L448.3 37.1Z" fill="#000"/>
<line x1="414.07" y1="37.88" x2="450.23" y2="57.69" stroke="#000" stroke-width="0.55"/>
<path d="M450.23 57.69 L449.2 56.44 L448.63 57.49Z" fill="#000"/>
<line x1="413.36" y1="38.78" x2="450.94" y2="79.96" stroke="#000" stroke-width="0.55"/>
<path d="M450.94 79.96 L450.37 78.44 L449.49 79.25Z" fill="#000"/>
<line x1="412.82" y1="39.19" x2="451.48" y2="102.72" stroke="#000" stroke-width="0.55"/>
<path d="M451.48 102.72 L451.21 101.13 L450.19 101.75Z" fill="#000"/>
<line x1="412.45" y1="39.38" x2="451.85" y2="125.7" stroke="#000" stroke-width="0.55"/>
<path d="M451.85 125.7 L451.77 124.08 L450.68 124.58Z" fill="#000"/>
<line x1="414.07" y1="57.69" x2="450.23" y2="37.88" stroke="#000" stroke-width="0.55"/>
<path d="M450.23 37.88 L448.63 38.08 L449.2 39.13Z" fill="#000"/>
<line x1="414.5" y1="59.5" x2="449.8" y2="59.5" stroke="#000" stroke-width="0.55"/>
<path d="M449.8 59.5 L448.3 58.9 L448.3 60.1Z" fill="#000"/>
<line x1="414.07" y1="61.05" x2="450.23" y2="80.86" stroke="#000" stroke-width="0.55"/>
<path d="M450.23 80.86 L449.2 79.61 L448.63 80.66Z" fill="#000"/>
<line x1="413.36" y1="61.95" x2="450.94" y2="103.13" stroke="#000" stroke-width="0.55"/>
<path d="M450.94 103.13 L450.37 101.61 L449.49 102.42Z" fill="#000"/>
<line x1="412.82" y1="62.36" x2="451.48" y2="125.89" stroke="#000" stroke-width="0.55"/>
<path d="M451.48 125.89 L451.21 124.3 L450.19 124.92Z" fill="#000"/>
<line x1="413.36" y1="79.96" x2="450.94" y2="38.78" stroke="#000" stroke-width="0.55"/>
<path d="M450.94 38.78 L449.49 39.49 L450.37 40.3Z" fill="#000"/>
<line x1="414.07" y1="80.86" x2="450.23" y2="61.05" stroke="#000" stroke-width="0.55"/>
<path d="M450.23 61.05 L448.63 61.25 L449.2 62.3Z" fill="#000"/>
<line x1="414.5" y1="82.5" x2="449.8" y2="82.5" stroke="#000" stroke-width="0.55"/>
<path d="M449.8 82.5 L448.3 81.9 L448.3 83.1Z" fill="#000"/>
<line x1="414.07" y1="84.22" x2="450.23" y2="104.03" stroke="#000" stroke-width="0.55"/>
<path d="M450.23 104.03 L449.2 102.78 L448.63 103.83Z" fill="#000"/>
<line x1="413.36" y1="85.12" x2="450.94" y2="126.3" stroke="#000" stroke-width="0.55"/>
<path d="M450.94 126.3 L450.37 124.78 L449.49 125.59Z" fill="#000"/>
<line x1="412.82" y1="102.72" x2="451.48" y2="39.19" stroke="#000" stroke-width="0.55"/>
<path d="M451.48 39.19 L450.19 40.16 L451.21 40.78Z" fill="#000"/>
<line x1="413.36" y1="103.13" x2="450.94" y2="61.95" stroke="#000" stroke-width="0.55"/>
<path d="M450.94 61.95 L449.49 62.66 L450.37 63.47Z" fill="#000"/>
<line x1="414.07" y1="104.03" x2="450.23" y2="84.22" stroke="#000" stroke-width="0.55"/>
<path d="M450.23 84.22 L448.63 84.42 L449.2 85.47Z" fill="#000"/>
<line x1="414.5" y1="105.5" x2="449.8" y2="105.5" stroke="#000" stroke-width="0.55"/>
<path d="M449.8 105.5 L448.3 104.9 L448.3 106.1Z" fill="#000"/>
<line x1="414.07" y1="107.39" x2="450.23" y2="127.2" stroke="#000" stroke-width="0.55"/>
<path d="M450.23 127.2 L449.2 125.95 L448.63 127Z" fill="#000"/>
<line x1="412.45" y1="125.7" x2="451.85" y2="39.38" stroke="#000" stroke-width="0.55"/>
<path d="M451.85 39.38 L450.68 40.5 L451.77 41Z" fill="#000"/>
<line x1="412.82" y1="125.89" x2="451.48" y2="62.36" stroke="#000" stroke-width="0.55"/>
<path d="M451.48 62.36 L450.19 63.33 L451.21 63.95Z" fill="#000"/>
<line x1="413.36" y1="126.3" x2="450.94" y2="85.12" stroke="#000" stroke-width="0.55"/>
<path d="M450.94 85.12 L449.49 85.83 L450.37 86.64Z" fill="#000"/>
<line x1="414.07" y1="127.2" x2="450.23" y2="107.39" stroke="#000" stroke-width="0.55"/>
<path d="M450.23 107.39 L448.63 107.59 L449.2 108.64Z" fill="#000"/>
<line x1="414.5" y1="128.5" x2="449.8" y2="128.5" stroke="#000" stroke-width="0.55"/>
<path d="M449.8 128.5 L448.3 127.9 L448.3 129.1Z" fill="#000"/>
<text x="421.15" y="35.7" font-size="2.7" text-anchor="middle" fill="#222" transform="rotate(0 421.15 35.7)">-1.57221</text>
<text x="418.85" y="39.93" font-size="2.7" text-anchor="middle" fill="#222" transform="rotate(28.71 418.85 39.93)">0.26538</text>
<text x="418.98" y="44.2" font-size="2.7" text-anchor="middle" fill="#222" transform="rotate(47.61 418.98 44.2)">-0.78027</text>
<text x="419.04" y="48.45" font-size="2.7" text-anchor="middle" fill="#222" transform="rotate(58.68 419.04 48.45)">0.62352</text>
<text x="419.07" y="52.67" font-size="2.7" text-anchor="middle" fill="#222" transform="rotate(65.47 419.07 52.67)">0.75432</text>
<text x="418.37" y="54.76" font-size="2.7" text-anchor="middle" fill="#222" transform="rotate(-28.71 418.37 54.76)">-2.60683</text>
<text x="421.15" y="58.87" font-size="2.7" text-anchor="middle" fill="#222" transform="rotate(0 421.15 58.87)">-2.92099</text>
<text x="418.85" y="63.1" font-size="2.7" text-anchor="middle" fill="#222" transform="rotate(28.71 418.85 63.1)">2.02481</text>
<text x="418.98" y="67.37" font-size="2.7" text-anchor="middle" fill="#222" transform="rotate(47.61 418.98 67.37)">-1.44388</text>
<text x="419.04" y="71.62" font-size="2.7" text-anchor="middle" fill="#222" transform="rotate(58.68 419.04 71.62)">-1.59401</text>
<text x="418.24" y="73.86" font-size="2.7" text-anchor="middle" fill="#222" transform="rotate(-47.61 418.24 73.86)">2.97387</text>
<text x="418.37" y="77.93" font-size="2.7" text-anchor="middle" fill="#222" transform="rotate(-28.71 418.37 77.93)">-0.17842</text>
<text x="421.15" y="82.04" font-size="2.7" text-anchor="middle" fill="#222" transform="rotate(0 421.15 82.04)">2.01877</text>
<text x="418.85" y="86.27" font-size="2.7" text-anchor="middle" fill="#222" transform="rotate(28.71 418.85 86.27)">-0.14188</text>
<text x="418.98" y="90.54" font-size="2.7" text-anchor="middle" fill="#222" transform="rotate(47.61 418.98 90.54)">0.83441</text>
<text x="418.19" y="92.94" font-size="2.7" text-anchor="middle" fill="#222" transform="rotate(-58.68 418.19 92.94)">-2.09630</text>
<text x="418.24" y="97.03" font-size="2.7" text-anchor="middle" fill="#222" transform="rotate(-47.61 418.24 97.03)">0.80916</text>
<text x="418.37" y="101.1" font-size="2.7" text-anchor="middle" fill="#222" transform="rotate(-28.71 418.37 101.1)">2.20827</text>
<text x="421.15" y="105.21" font-size="2.7" text-anchor="middle" fill="#222" transform="rotate(0 421.15 105.21)">0.13909</text>
<text x="418.85" y="109.44" font-size="2.7" text-anchor="middle" fill="#222" transform="rotate(28.71 418.85 109.44)">1.44751</text>
<text x="418.16" y="111.99" font-size="2.7" text-anchor="middle" fill="#222" transform="rotate(-65.47 418.16 111.99)">1.02847</text>
<text x="418.19" y="116.11" font-size="2.7" text-anchor="middle" fill="#222" transform="rotate(-58.68 418.19 116.11)">-2.61581</text>
<text x="418.24" y="120.2" font-size="2.7" text-anchor="middle" fill="#222" transform="rotate(-47.61 418.24 120.2)">1.54938</text>
<text x="418.37" y="124.27" font-size="2.7" text-anchor="middle" fill="#222" transform="rotate(-28.71 418.37 124.27)">0.54660</text>
<text x="421.15" y="128.38" font-size="2.7" text-anchor="middle" fill="#222" transform="rotate(0 421.15 128.38)">-1.19239</text>
<line x1="431" y1="22.8" x2="450.3" y2="34.4" stroke="#2222ff" stroke-width="0.5"/>
<path d="M450.3 34.4 L449.32 33.11 L448.71 34.14Z" fill="#2222ff"/>
<text x="442.17" y="28.93" font-size="2.7" text-anchor="middle" fill="#2222ff" transform="rotate(31 442.17 28.93)">-2.81393</text>
<line x1="429.93" y1="23.92" x2="451.37" y2="56.45" stroke="#2222ff" stroke-width="0.5"/>
<path d="M451.37 56.45 L451.05 54.87 L450.05 55.53Z" fill="#2222ff"/>
<text x="447.39" y="49.5" font-size="2.7" text-anchor="middle" fill="#2222ff" transform="rotate(56.6 447.39 49.5)">2.19316</text>
<line x1="429.33" y1="24.24" x2="451.97" y2="79.3" stroke="#2222ff" stroke-width="0.5"/>
<path d="M451.97 79.3 L451.95 77.69 L450.84 78.14Z" fill="#2222ff"/>
<text x="447.44" y="66.96" font-size="2.7" text-anchor="middle" fill="#2222ff" transform="rotate(67.65 447.44 66.96)">-0.16351</text>
<line x1="429" y1="24.35" x2="452.3" y2="102.36" stroke="#2222ff" stroke-width="0.5"/>
<path d="M452.3 102.36 L452.44 100.75 L451.29 101.09Z" fill="#2222ff"/>
<text x="447.45" y="84.39" font-size="2.7" text-anchor="middle" fill="#2222ff" transform="rotate(73.37 447.45 84.39)">1.31294</text>
<line x1="428.8" y1="24.41" x2="452.5" y2="125.47" stroke="#2222ff" stroke-width="0.5"/>
<path d="M452.5 125.47 L452.74 123.88 L451.57 124.15Z" fill="#2222ff"/>
<text x="447.46" y="101.8" font-size="2.7" text-anchor="middle" fill="#2222ff" transform="rotate(76.8 447.46 101.8)">2.27288</text>
<line x1="455.63" y1="38.81" x2="492.27" y2="79.89" stroke="#000" stroke-width="0.55"/>
<path d="M492.27 79.89 L491.72 78.37 L490.82 79.17Z" fill="#000"/>
<text x="461.93" y="45.13" font-size="2.7" text-anchor="middle" fill="#222" transform="rotate(48.27 461.93 45.13)">1.28478</text>
<line x1="456.35" y1="61.08" x2="491.55" y2="80.79" stroke="#000" stroke-width="0.55"/>
<path d="M491.55 80.79 L490.53 79.53 L489.94 80.58Z" fill="#000"/>
<text x="461.8" y="63.56" font-size="2.7" text-anchor="middle" fill="#222" transform="rotate(29.25 461.8 63.56)">2.52659</text>
<line x1="456.8" y1="82.5" x2="491.1" y2="82.5" stroke="#000" stroke-width="0.55"/>
<path d="M491.1 82.5 L489.6 81.9 L489.6 83.1Z" fill="#000"/>
<text x="461.56" y="82" font-size="2.7" text-anchor="middle" fill="#222" transform="rotate(0 461.56 82)">-0.63022</text>
<line x1="456.35" y1="104" x2="491.55" y2="84.21" stroke="#000" stroke-width="0.55"/>
<path d="M491.55 84.21 L489.95 84.43 L490.54 85.47Z" fill="#000"/>
<text x="461.32" y="100.63" font-size="2.7" text-anchor="middle" fill="#222" transform="rotate(-29.34 461.32 100.63)">1.80545</text>
<line x1="455.63" y1="126.27" x2="492.27" y2="85.11" stroke="#000" stroke-width="0.55"/>
<path d="M492.27 85.11 L490.83 85.84 L491.72 86.63Z" fill="#000"/>
<text x="461.19" y="119.27" font-size="2.7" text-anchor="middle" fill="#222" transform="rotate(-48.32 461.19 119.27)">-0.33227</text>
<line x1="470.92" y1="24.24" x2="493.28" y2="79.26" stroke="#2222ff" stroke-width="0.5"/>
<path d="M493.28 79.26 L493.27 77.64 L492.16 78.09Z" fill="#2222ff"/>
<text x="490.06" y="70.01" font-size="2.7" text-anchor="middle" fill="#2222ff" transform="rotate(67.88 490.06 70.01)">2.61352</text>
<line x1="498.1" y1="82.8" x2="514.9" y2="82.8" stroke="#555" stroke-width="0.55"/>
<path d="M514.9 82.8 L513.5 82.2 L513.5 83.4Z" fill="#555"/>
<text x="500" y="82.6" font-size="3.8" text-anchor="start" fill="#222" stroke="#222" stroke-width="0.1">Alliance</text>
<circle cx="411" cy="36.2" r="3.25" fill="#4fcf8a" stroke="#1f5a38" stroke-width="0.6"/>
<circle cx="453.3" cy="36.2" r="3.25" fill="#4fcf8a" stroke="#1f5a38" stroke-width="0.6"/>
<circle cx="411" cy="59.37" r="3.25" fill="#4fcf8a" stroke="#1f5a38" stroke-width="0.6"/>
<circle cx="453.3" cy="59.37" r="3.25" fill="#4fcf8a" stroke="#1f5a38" stroke-width="0.6"/>
<circle cx="411" cy="82.54" r="3.25" fill="#4fcf8a" stroke="#1f5a38" stroke-width="0.6"/>
<circle cx="453.3" cy="82.54" r="3.25" fill="#4fcf8a" stroke="#1f5a38" stroke-width="0.6"/>
<circle cx="411" cy="105.71" r="3.25" fill="#4fcf8a" stroke="#1f5a38" stroke-width="0.6"/>
<circle cx="453.3" cy="105.71" r="3.25" fill="#4fcf8a" stroke="#1f5a38" stroke-width="0.6"/>
<circle cx="411" cy="128.88" r="3.25" fill="#4fcf8a" stroke="#1f5a38" stroke-width="0.6"/>
<circle cx="453.3" cy="128.88" r="3.25" fill="#4fcf8a" stroke="#1f5a38" stroke-width="0.6"/>
<circle cx="494.6" cy="82.5" r="3.25" fill="#4fcf8a" stroke="#1f5a38" stroke-width="0.6"/>
<circle cx="428" cy="21" r="3.3" fill="#fff" stroke="#2222ff" stroke-width="0.5"/>
<text x="428" y="22" font-size="2.8" text-anchor="middle" fill="#2222ff">1</text>
<circle cx="469.6" cy="21" r="3.3" fill="#fff" stroke="#2222ff" stroke-width="0.5"/>
<text x="469.6" y="22" font-size="2.8" text-anchor="middle" fill="#2222ff">1</text>
<text x="441.1" y="5" font-size="6.75" text-anchor="middle" fill="#000">A3. BP Neural Networks of Alliance</text>
<text x="463.5" y="143.6" font-size="4.8" text-anchor="middle" fill="#111" stroke="#111" stroke-width="0.1" xml:space="preserve">Error: 1.428481   Steps: 12589</text>
<line x1="540.5" y1="35.1" x2="576.7" y2="35.1" stroke="#555" stroke-width="0.55"/>
<path d="M576.7 35.1 L575.3 34.5 L575.3 35.7Z" fill="#555"/>
<text x="540.5" y="34.8" font-size="3.9" text-anchor="start" fill="#222" stroke="#222" stroke-width="0.1">Victory_Cost</text>
<line x1="540.5" y1="58.27" x2="576.7" y2="58.27" stroke="#555" stroke-width="0.55"/>
<path d="M576.7 58.27 L575.3 57.67 L575.3 58.87Z" fill="#555"/>
<text x="540.5" y="57.97" font-size="3.9" text-anchor="start" fill="#222" stroke="#222" stroke-width="0.1">Defeat_Cost</text>
<line x1="540.5" y1="81.44" x2="576.7" y2="81.44" stroke="#555" stroke-width="0.55"/>
<path d="M576.7 81.44 L575.3 80.84 L575.3 82.04Z" fill="#555"/>
<text x="540.5" y="81.14" font-size="3.9" text-anchor="start" fill="#222" stroke="#222" stroke-width="0.1">Threshold of Betrayal</text>
<line x1="540.5" y1="104.61" x2="576.7" y2="104.61" stroke="#555" stroke-width="0.55"/>
<path d="M576.7 104.61 L575.3 104.01 L575.3 105.21Z" fill="#555"/>
<text x="540.5" y="104.31" font-size="3.9" text-anchor="start" fill="#222" stroke="#222" stroke-width="0.1">Bellicosity</text>
<line x1="540.5" y1="127.78" x2="576.7" y2="127.78" stroke="#555" stroke-width="0.55"/>
<path d="M576.7 127.78 L575.3 127.18 L575.3 128.38Z" fill="#555"/>
<text x="540.5" y="127.48" font-size="3.9" text-anchor="start" fill="#222" stroke="#222" stroke-width="0.1">Alliances_Propensity</text>
<line x1="585.6" y1="34.5" x2="620.6" y2="34.5" stroke="#000" stroke-width="0.55"/>
<path d="M620.6 34.5 L619.1 33.9 L619.1 35.1Z" fill="#000"/>
<line x1="585.16" y1="36.59" x2="621.04" y2="56.38" stroke="#000" stroke-width="0.55"/>
<path d="M621.04 56.38 L620.01 55.13 L619.43 56.18Z" fill="#000"/>
<line x1="584.45" y1="37.49" x2="621.75" y2="78.65" stroke="#000" stroke-width="0.55"/>
<path d="M621.75 78.65 L621.19 77.13 L620.3 77.94Z" fill="#000"/>
<line x1="583.91" y1="37.9" x2="622.29" y2="101.41" stroke="#000" stroke-width="0.55"/>
<path d="M622.29 101.41 L622.03 99.82 L621 100.44Z" fill="#000"/>
<line x1="583.54" y1="38.09" x2="622.66" y2="124.39" stroke="#000" stroke-width="0.55"/>
<path d="M622.66 124.39 L622.58 122.78 L621.49 123.27Z" fill="#000"/>
<line x1="585.16" y1="56.38" x2="621.04" y2="36.59" stroke="#000" stroke-width="0.55"/>
<path d="M621.04 36.59 L619.43 36.79 L620.01 37.84Z" fill="#000"/>
<line x1="585.6" y1="58.5" x2="620.6" y2="58.5" stroke="#000" stroke-width="0.55"/>
<path d="M620.6 58.5 L619.1 57.9 L619.1 59.1Z" fill="#000"/>
<line x1="585.16" y1="59.76" x2="621.04" y2="79.55" stroke="#000" stroke-width="0.55"/>
<path d="M621.04 79.55 L620.01 78.3 L619.43 79.35Z" fill="#000"/>
<line x1="584.45" y1="60.66" x2="621.75" y2="101.82" stroke="#000" stroke-width="0.55"/>
<path d="M621.75 101.82 L621.19 100.3 L620.3 101.11Z" fill="#000"/>
<line x1="583.91" y1="61.07" x2="622.29" y2="124.58" stroke="#000" stroke-width="0.55"/>
<path d="M622.29 124.58 L622.03 122.99 L621 123.61Z" fill="#000"/>
<line x1="584.45" y1="78.65" x2="621.75" y2="37.49" stroke="#000" stroke-width="0.55"/>
<path d="M621.75 37.49 L620.3 38.2 L621.19 39.01Z" fill="#000"/>
<line x1="585.16" y1="79.55" x2="621.04" y2="59.76" stroke="#000" stroke-width="0.55"/>
<path d="M621.04 59.76 L619.43 59.96 L620.01 61.01Z" fill="#000"/>
<line x1="585.6" y1="81.5" x2="620.6" y2="81.5" stroke="#000" stroke-width="0.55"/>
<path d="M620.6 81.5 L619.1 80.9 L619.1 82.1Z" fill="#000"/>
<line x1="585.16" y1="82.93" x2="621.04" y2="102.72" stroke="#000" stroke-width="0.55"/>
<path d="M621.04 102.72 L620.01 101.47 L619.43 102.52Z" fill="#000"/>
<line x1="584.45" y1="83.83" x2="621.75" y2="124.99" stroke="#000" stroke-width="0.55"/>
<path d="M621.75 124.99 L621.19 123.47 L620.3 124.28Z" fill="#000"/>
<line x1="583.91" y1="101.41" x2="622.29" y2="37.9" stroke="#000" stroke-width="0.55"/>
<path d="M622.29 37.9 L621 38.87 L622.03 39.49Z" fill="#000"/>
<line x1="584.45" y1="101.82" x2="621.75" y2="60.66" stroke="#000" stroke-width="0.55"/>
<path d="M621.75 60.66 L620.3 61.37 L621.19 62.18Z" fill="#000"/>
<line x1="585.16" y1="102.72" x2="621.04" y2="82.93" stroke="#000" stroke-width="0.55"/>
<path d="M621.04 82.93 L619.43 83.13 L620.01 84.18Z" fill="#000"/>
<line x1="585.6" y1="104.5" x2="620.6" y2="104.5" stroke="#000" stroke-width="0.55"/>
<path d="M620.6 104.5 L619.1 103.9 L619.1 105.1Z" fill="#000"/>
<line x1="585.16" y1="106.1" x2="621.04" y2="125.89" stroke="#000" stroke-width="0.55"/>
<path d="M621.04 125.89 L620.01 124.64 L619.43 125.69Z" fill="#000"/>
<line x1="583.54" y1="124.39" x2="622.66" y2="38.09" stroke="#000" stroke-width="0.55"/>
<path d="M622.66 38.09 L621.49 39.21 L622.58 39.7Z" fill="#000"/>
<line x1="583.91" y1="124.58" x2="622.29" y2="61.07" stroke="#000" stroke-width="0.55"/>
<path d="M622.29 61.07 L621 62.04 L622.03 62.66Z" fill="#000"/>
<line x1="584.45" y1="124.99" x2="621.75" y2="83.83" stroke="#000" stroke-width="0.55"/>
<path d="M621.75 83.83 L620.3 84.54 L621.19 85.35Z" fill="#000"/>
<line x1="585.16" y1="125.89" x2="621.04" y2="106.1" stroke="#000" stroke-width="0.55"/>
<path d="M621.04 106.1 L619.43 106.3 L620.01 107.35Z" fill="#000"/>
<line x1="585.6" y1="127.5" x2="620.6" y2="127.5" stroke="#000" stroke-width="0.55"/>
<path d="M620.6 127.5 L619.1 126.9 L619.1 128.1Z" fill="#000"/>
<text x="592.18" y="34.4" font-size="2.7" text-anchor="middle" fill="#222" transform="rotate(0 592.18 34.4)">-1.58371</text>
<text x="589.9" y="38.63" font-size="2.7" text-anchor="middle" fill="#222" transform="rotate(28.88 589.9 38.63)">-2.38100</text>
<text x="590.03" y="42.91" font-size="2.7" text-anchor="middle" fill="#222" transform="rotate(47.81 590.03 42.91)">-0.62365</text>
<text x="590.09" y="47.15" font-size="2.7" text-anchor="middle" fill="#222" transform="rotate(58.86 590.09 47.15)">-2.07017</text>
<text x="590.12" y="51.38" font-size="2.7" text-anchor="middle" fill="#222" transform="rotate(65.62 590.12 51.38)">-2.60091</text>
<text x="589.42" y="53.46" font-size="2.7" text-anchor="middle" fill="#222" transform="rotate(-28.88 589.42 53.46)">-0.59045</text>
<text x="592.18" y="57.57" font-size="2.7" text-anchor="middle" fill="#222" transform="rotate(0 592.18 57.57)">2.50773</text>
<text x="589.9" y="61.8" font-size="2.7" text-anchor="middle" fill="#222" transform="rotate(28.88 589.9 61.8)">1.80271</text>
<text x="590.03" y="66.08" font-size="2.7" text-anchor="middle" fill="#222" transform="rotate(47.81 590.03 66.08)">1.59098</text>
<text x="590.09" y="70.32" font-size="2.7" text-anchor="middle" fill="#222" transform="rotate(58.86 590.09 70.32)">-1.66843</text>
<text x="589.29" y="72.56" font-size="2.7" text-anchor="middle" fill="#222" transform="rotate(-47.81 589.29 72.56)">0.22008</text>
<text x="589.42" y="76.63" font-size="2.7" text-anchor="middle" fill="#222" transform="rotate(-28.88 589.42 76.63)">-1.33990</text>
<text x="592.18" y="80.74" font-size="2.7" text-anchor="middle" fill="#222" transform="rotate(0 592.18 80.74)">-1.96401</text>
<text x="589.9" y="84.97" font-size="2.7" text-anchor="middle" fill="#222" transform="rotate(28.88 589.9 84.97)">-2.36290</text>
<text x="590.03" y="89.25" font-size="2.7" text-anchor="middle" fill="#222" transform="rotate(47.81 590.03 89.25)">-1.71360</text>
<text x="589.23" y="91.64" font-size="2.7" text-anchor="middle" fill="#222" transform="rotate(-58.86 589.23 91.64)">2.56485</text>
<text x="589.29" y="95.73" font-size="2.7" text-anchor="middle" fill="#222" transform="rotate(-47.81 589.29 95.73)">1.97352</text>
<text x="589.42" y="99.8" font-size="2.7" text-anchor="middle" fill="#222" transform="rotate(-28.88 589.42 99.8)">1.83991</text>
<text x="592.18" y="103.91" font-size="2.7" text-anchor="middle" fill="#222" transform="rotate(0 592.18 103.91)">1.80269</text>
<text x="589.9" y="108.14" font-size="2.7" text-anchor="middle" fill="#222" transform="rotate(28.88 589.9 108.14)">-1.83939</text>
<text x="589.2" y="110.69" font-size="2.7" text-anchor="middle" fill="#222" transform="rotate(-65.62 589.2 110.69)">-1.14090</text>
<text x="589.23" y="114.81" font-size="2.7" text-anchor="middle" fill="#222" transform="rotate(-58.86 589.23 114.81)">0.76185</text>
<text x="589.29" y="118.9" font-size="2.7" text-anchor="middle" fill="#222" transform="rotate(-47.81 589.29 118.9)">1.39137</text>
<text x="589.42" y="122.97" font-size="2.7" text-anchor="middle" fill="#222" transform="rotate(-28.88 589.42 122.97)">2.12789</text>
<text x="592.18" y="127.08" font-size="2.7" text-anchor="middle" fill="#222" transform="rotate(0 592.18 127.08)">2.28030</text>
<line x1="601.94" y1="20.51" x2="621.16" y2="32.99" stroke="#2222ff" stroke-width="0.5"/>
<path d="M621.16 32.99 L620.23 31.67 L619.58 32.68Z" fill="#2222ff"/>
<text x="613.08" y="27.15" font-size="2.7" text-anchor="middle" fill="#2222ff" transform="rotate(33 613.08 27.15)">-2.47969</text>
<line x1="600.88" y1="21.55" x2="622.22" y2="55.12" stroke="#2222ff" stroke-width="0.5"/>
<path d="M622.22 55.12 L621.92 53.53 L620.91 54.17Z" fill="#2222ff"/>
<text x="618.25" y="47.93" font-size="2.7" text-anchor="middle" fill="#2222ff" transform="rotate(57.55 618.25 47.93)">0.63511</text>
<line x1="600.3" y1="21.85" x2="622.8" y2="77.99" stroke="#2222ff" stroke-width="0.5"/>
<path d="M622.8 77.99 L622.8 76.38 L621.68 76.82Z" fill="#2222ff"/>
<text x="618.29" y="65.39" font-size="2.7" text-anchor="middle" fill="#2222ff" transform="rotate(68.16 618.29 65.39)">1.03021</text>
<line x1="599.98" y1="21.96" x2="623.12" y2="101.05" stroke="#2222ff" stroke-width="0.5"/>
<path d="M623.12 101.05 L623.27 99.44 L622.12 99.78Z" fill="#2222ff"/>
<text x="618.3" y="82.82" font-size="2.7" text-anchor="middle" fill="#2222ff" transform="rotate(73.7 618.3 82.82)">0.03572</text>
<line x1="599.79" y1="22.01" x2="623.31" y2="124.17" stroke="#2222ff" stroke-width="0.5"/>
<path d="M623.31 124.17 L623.56 122.57 L622.39 122.84Z" fill="#2222ff"/>
<text x="618.31" y="100.22" font-size="2.7" text-anchor="middle" fill="#2222ff" transform="rotate(77.03 618.31 100.22)">-1.93326</text>
<line x1="626.43" y1="37.51" x2="663.07" y2="78.59" stroke="#000" stroke-width="0.55"/>
<path d="M663.07 78.59 L662.52 77.07 L661.62 77.87Z" fill="#000"/>
<text x="632.73" y="43.83" font-size="2.7" text-anchor="middle" fill="#222" transform="rotate(48.27 632.73 43.83)">-0.15847</text>
<line x1="627.15" y1="59.78" x2="662.35" y2="79.49" stroke="#000" stroke-width="0.55"/>
<path d="M662.35 79.49 L661.33 78.23 L660.74 79.28Z" fill="#000"/>
<text x="632.6" y="62.26" font-size="2.7" text-anchor="middle" fill="#222" transform="rotate(29.25 632.6 62.26)">-2.46392</text>
<line x1="627.6" y1="81.5" x2="661.9" y2="81.5" stroke="#000" stroke-width="0.55"/>
<path d="M661.9 81.5 L660.4 80.9 L660.4 82.1Z" fill="#000"/>
<text x="632.36" y="81" font-size="2.7" text-anchor="middle" fill="#222" transform="rotate(0 632.36 81)">2.60753</text>
<line x1="627.15" y1="102.7" x2="662.35" y2="82.91" stroke="#000" stroke-width="0.55"/>
<path d="M662.35 82.91 L660.75 83.13 L661.34 84.17Z" fill="#000"/>
<text x="632.12" y="99.33" font-size="2.7" text-anchor="middle" fill="#222" transform="rotate(-29.34 632.12 99.33)">2.19291</text>
<line x1="626.43" y1="124.97" x2="663.07" y2="83.81" stroke="#000" stroke-width="0.55"/>
<path d="M663.07 83.81 L661.63 84.54 L662.52 85.33Z" fill="#000"/>
<text x="631.99" y="117.97" font-size="2.7" text-anchor="middle" fill="#222" transform="rotate(-48.32 631.99 117.97)">0.28583</text>
<line x1="642.27" y1="21.86" x2="664.13" y2="77.94" stroke="#2222ff" stroke-width="0.5"/>
<path d="M664.13 77.94 L664.14 76.32 L663.03 76.76Z" fill="#2222ff"/>
<text x="660.99" y="68.5" font-size="2.7" text-anchor="middle" fill="#2222ff" transform="rotate(68.71 660.99 68.5)">-1.19853</text>
<line x1="668.9" y1="81.5" x2="685.7" y2="81.5" stroke="#555" stroke-width="0.55"/>
<path d="M685.7 81.5 L684.3 80.9 L684.3 82.1Z" fill="#555"/>
<text x="670.8" y="81.3" font-size="3.8" text-anchor="start" fill="#222" stroke="#222" stroke-width="0.1">War</text>
<circle cx="582.1" cy="34.9" r="3.25" fill="#4fcf8a" stroke="#1f5a38" stroke-width="0.6"/>
<circle cx="624.1" cy="34.9" r="3.25" fill="#4fcf8a" stroke="#1f5a38" stroke-width="0.6"/>
<circle cx="582.1" cy="58.07" r="3.25" fill="#4fcf8a" stroke="#1f5a38" stroke-width="0.6"/>
<circle cx="624.1" cy="58.07" r="3.25" fill="#4fcf8a" stroke="#1f5a38" stroke-width="0.6"/>
<circle cx="582.1" cy="81.24" r="3.25" fill="#4fcf8a" stroke="#1f5a38" stroke-width="0.6"/>
<circle cx="624.1" cy="81.24" r="3.25" fill="#4fcf8a" stroke="#1f5a38" stroke-width="0.6"/>
<circle cx="582.1" cy="104.41" r="3.25" fill="#4fcf8a" stroke="#1f5a38" stroke-width="0.6"/>
<circle cx="624.1" cy="104.41" r="3.25" fill="#4fcf8a" stroke="#1f5a38" stroke-width="0.6"/>
<circle cx="582.1" cy="127.58" r="3.25" fill="#4fcf8a" stroke="#1f5a38" stroke-width="0.6"/>
<circle cx="624.1" cy="127.58" r="3.25" fill="#4fcf8a" stroke="#1f5a38" stroke-width="0.6"/>
<circle cx="665.4" cy="81.2" r="3.25" fill="#4fcf8a" stroke="#1f5a38" stroke-width="0.6"/>
<circle cx="599" cy="18.6" r="3.3" fill="#fff" stroke="#2222ff" stroke-width="0.5"/>
<text x="599" y="19.6" font-size="2.8" text-anchor="middle" fill="#2222ff">1</text>
<circle cx="641" cy="18.6" r="3.3" fill="#fff" stroke="#2222ff" stroke-width="0.5"/>
<text x="641" y="19.6" font-size="2.8" text-anchor="middle" fill="#2222ff">1</text>
<text x="608.3" y="5" font-size="6.75" text-anchor="middle" fill="#000">A4.BP Neural Networks of War</text>
<text x="621.5" y="141" font-size="4.8" text-anchor="middle" fill="#111" stroke="#111" stroke-width="0.1" xml:space="preserve">Error: 3.381904   Steps: 9059</text>
<rect x="42" y="263.6" width="5.3" height="15.9" fill="#00a087" stroke="#111" stroke-width="0.55"/>
<rect x="47.3" y="230.4" width="5.3" height="49.1" fill="#00a087" stroke="#111" stroke-width="0.55"/>
<rect x="52.6" y="238.3" width="5.3" height="41.2" fill="#00a087" stroke="#111" stroke-width="0.55"/>
<rect x="57.9" y="222.2" width="5.3" height="57.3" fill="#00a087" stroke="#111" stroke-width="0.55"/>
<rect x="63.2" y="205.4" width="5.3" height="74.1" fill="#00a087" stroke="#111" stroke-width="0.55"/>
<rect x="68.5" y="255" width="5.3" height="24.5" fill="#00a087" stroke="#111" stroke-width="0.55"/>
<rect x="73.8" y="230.4" width="5.3" height="49.1" fill="#00a087" stroke="#111" stroke-width="0.55"/>
<rect x="79.1" y="205.4" width="5.3" height="74.1" fill="#00a087" stroke="#111" stroke-width="0.55"/>
<rect x="84.4" y="238.3" width="5.3" height="41.2" fill="#00a087" stroke="#111" stroke-width="0.55"/>
<rect x="89.7" y="214.1" width="5.3" height="65.4" fill="#00a087" stroke="#111" stroke-width="0.55"/>
<rect x="95" y="180.8" width="5.3" height="98.7" fill="#00a087" stroke="#111" stroke-width="0.55"/>
<rect x="100.3" y="263.3" width="5.3" height="16.2" fill="#00a087" stroke="#111" stroke-width="0.55"/>
<rect x="105.6" y="255" width="5.3" height="24.5" fill="#00a087" stroke="#111" stroke-width="0.55"/>
<rect x="110.9" y="230.5" width="5.3" height="49" fill="#00a087" stroke="#111" stroke-width="0.55"/>
<rect x="116.2" y="238.8" width="5.3" height="40.7" fill="#00a087" stroke="#111" stroke-width="0.55"/>
<rect x="121.5" y="255" width="5.3" height="24.5" fill="#00a087" stroke="#111" stroke-width="0.55"/>
<rect x="126.8" y="271.3" width="5.3" height="8.2" fill="#00a087" stroke="#111" stroke-width="0.55"/>
<rect x="137.4" y="263.3" width="5.3" height="16.2" fill="#00a087" stroke="#111" stroke-width="0.55"/>
<rect x="142.7" y="271.3" width="5.3" height="8.2" fill="#00a087" stroke="#111" stroke-width="0.55"/>
<path d="M29 278.8 C30 277.95 32.83 276.13 35 273.7 C37.17 271.27 39.93 268.37 42 264.2 C44.07 260.03 45.63 252.98 47.4 248.7 C49.17 244.42 50.83 241.43 52.6 238.5 C54.37 235.57 56.43 232.6 58 231.1 C59.57 229.6 60.42 229.57 62 229.5 C63.58 229.43 65.92 230.37 67.5 230.7 C69.08 231.03 70.12 231.82 71.5 231.5 C72.88 231.18 74.03 230.32 75.8 228.8 C77.57 227.28 79.6 224.2 82.1 222.4 C84.6 220.6 88.15 218 90.8 218 C93.45 218 95.75 220.08 98 222.4 C100.25 224.72 101.93 228.47 104.3 231.9 C106.67 235.33 109.42 239.57 112.2 243 C114.98 246.43 118.03 249.33 121 252.5 C123.97 255.67 126.83 259.03 130 262 C133.17 264.97 136.67 267.97 140 270.3 C143.33 272.63 146.43 274.48 150 276 C153.57 277.52 159.5 278.83 161.4 279.4" stroke="#4d4d4d" stroke-width="1.05" fill="none"/>
<line x1="22.4" y1="169.4" x2="22.4" y2="285.25" stroke="#333" stroke-width="0.55"/>
<line x1="22.15" y1="285" x2="167.7" y2="285" stroke="#333" stroke-width="0.55"/>
<line x1="20.2" y1="279.5" x2="22.4" y2="279.5" stroke="#333" stroke-width="0.5"/>
<text x="19.6" y="281.5" font-size="5.76" text-anchor="end" fill="#4d4d4d" stroke="#4d4d4d" stroke-width="0.1">0</text>
<line x1="20.2" y1="240.7" x2="22.4" y2="240.7" stroke="#333" stroke-width="0.5"/>
<text x="19.6" y="242.7" font-size="5.76" text-anchor="end" fill="#4d4d4d" stroke="#4d4d4d" stroke-width="0.1">1000</text>
<line x1="20.2" y1="201.9" x2="22.4" y2="201.9" stroke="#333" stroke-width="0.5"/>
<text x="19.6" y="203.9" font-size="5.76" text-anchor="end" fill="#4d4d4d" stroke="#4d4d4d" stroke-width="0.1">2000</text>
<line x1="23.6" y1="285" x2="23.6" y2="287.2" stroke="#333" stroke-width="0.5"/>
<text x="23.6" y="291.5" font-size="5.76" text-anchor="middle" fill="#4d4d4d" stroke="#4d4d4d" stroke-width="0.1">0.0010</text>
<line x1="76.5" y1="285" x2="76.5" y2="287.2" stroke="#333" stroke-width="0.5"/>
<text x="76.5" y="291.5" font-size="5.76" text-anchor="middle" fill="#4d4d4d" stroke="#4d4d4d" stroke-width="0.1">0.0015</text>
<line x1="129.4" y1="285" x2="129.4" y2="287.2" stroke="#333" stroke-width="0.5"/>
<text x="129.4" y="291.5" font-size="5.76" text-anchor="middle" fill="#4d4d4d" stroke="#4d4d4d" stroke-width="0.1">0.0020</text>
<text x="3.9" y="227" font-size="5.46" text-anchor="middle" fill="#111" stroke="#111" stroke-width="0.1" transform="rotate(-90 3.9 227)">density</text>
<text x="91" y="164.8" font-size="6.75" text-anchor="middle" fill="#000">B1.MSE Distribution of States</text>
<rect x="122.6" y="176.5" width="36.6" height="43.6" fill="#fff" stroke="none" stroke-width="0.5"/>
<line x1="122.3" y1="176.8" x2="122.3" y2="220.3" stroke="#333" stroke-width="0.5"/>
<line x1="122.1" y1="220.1" x2="158.9" y2="220.1" stroke="#333" stroke-width="0.5"/>
<line x1="121" y1="184.6" x2="122.3" y2="184.6" stroke="#333" stroke-width="0.45"/>
<text x="119.8" y="186.1" font-size="4.4" text-anchor="end" fill="#5a5a5a" stroke="#5a5a5a" stroke-width="0.1">0.0020</text>
<line x1="121" y1="193.2" x2="122.3" y2="193.2" stroke="#333" stroke-width="0.45"/>
<text x="119.8" y="194.7" font-size="4.4" text-anchor="end" fill="#5a5a5a" stroke="#5a5a5a" stroke-width="0.1">0.0018</text>
<line x1="121" y1="201.8" x2="122.3" y2="201.8" stroke="#333" stroke-width="0.45"/>
<text x="119.8" y="203.3" font-size="4.4" text-anchor="end" fill="#5a5a5a" stroke="#5a5a5a" stroke-width="0.1">0.0016</text>
<line x1="121" y1="210.4" x2="122.3" y2="210.4" stroke="#333" stroke-width="0.45"/>
<text x="119.8" y="211.9" font-size="4.4" text-anchor="end" fill="#5a5a5a" stroke="#5a5a5a" stroke-width="0.1">0.0014</text>
<line x1="121" y1="219" x2="122.3" y2="219" stroke="#333" stroke-width="0.45"/>
<text x="119.8" y="220.5" font-size="4.4" text-anchor="end" fill="#5a5a5a" stroke="#5a5a5a" stroke-width="0.1">0.0012</text>
<line x1="122.5" y1="220.1" x2="122.5" y2="221.4" stroke="#333" stroke-width="0.45"/>
<text x="122.5" y="225.7" font-size="4.4" text-anchor="middle" fill="#4a4a4a" stroke="#4a4a4a" stroke-width="0.1">−0.4</text>
<line x1="131.8" y1="220.1" x2="131.8" y2="221.4" stroke="#333" stroke-width="0.45"/>
<text x="131.8" y="225.7" font-size="4.4" text-anchor="middle" fill="#4a4a4a" stroke="#4a4a4a" stroke-width="0.1">−0.2</text>
<line x1="140.3" y1="220.1" x2="140.3" y2="221.4" stroke="#333" stroke-width="0.45"/>
<text x="140.3" y="225.7" font-size="4.4" text-anchor="middle" fill="#4a4a4a" stroke="#4a4a4a" stroke-width="0.1">0.0</text>
<line x1="149.4" y1="220.1" x2="149.4" y2="221.4" stroke="#333" stroke-width="0.45"/>
<text x="149.4" y="225.7" font-size="4.4" text-anchor="middle" fill="#4a4a4a" stroke="#4a4a4a" stroke-width="0.1">0.2</text>
<line x1="158.2" y1="220.1" x2="158.2" y2="221.4" stroke="#333" stroke-width="0.45"/>
<text x="158.2" y="225.7" font-size="4.4" text-anchor="middle" fill="#4a4a4a" stroke="#4a4a4a" stroke-width="0.1">0.4</text>
<text x="106.4" y="199.1" font-size="5.3" text-anchor="middle" fill="#111" stroke="#111" stroke-width="0.1" transform="rotate(-90 106.4 199.1)">MSE</text>
<line x1="140.8" y1="178.8" x2="140.8" y2="196.1" stroke="#333" stroke-width="0.5"/>
<line x1="140.8" y1="210.2" x2="140.8" y2="217.7" stroke="#333" stroke-width="0.5"/>
<rect x="124.1" y="196.1" width="33.4" height="14.1" fill="#fff" stroke="#333" stroke-width="0.5"/>
<line x1="124.1" y1="202" x2="157.5" y2="202" stroke="#333" stroke-width="0.9"/>
<rect x="211.3" y="236.6" width="13.28" height="42.9" fill="#00a087" stroke="#111" stroke-width="0.55"/>
<rect x="224.58" y="242.3" width="13.28" height="37.2" fill="#00a087" stroke="#111" stroke-width="0.55"/>
<rect x="237.86" y="191.4" width="13.28" height="88.1" fill="#00a087" stroke="#111" stroke-width="0.55"/>
<rect x="251.14" y="248.4" width="13.28" height="31.1" fill="#00a087" stroke="#111" stroke-width="0.55"/>
<rect x="264.42" y="242.4" width="13.28" height="37.1" fill="#00a087" stroke="#111" stroke-width="0.55"/>
<rect x="277.7" y="262.4" width="13.28" height="17.1" fill="#00a087" stroke="#111" stroke-width="0.55"/>
<rect x="290.98" y="268.1" width="13.28" height="11.4" fill="#00a087" stroke="#111" stroke-width="0.55"/>
<rect x="304.26" y="274.1" width="13.28" height="5.4" fill="#00a087" stroke="#111" stroke-width="0.55"/>
<rect x="317.54" y="277.1" width="13.28" height="2.4" fill="#00a087" stroke="#111" stroke-width="0.55"/>
<path d="M198.3 276.1 C199.25 274.42 202.05 269.68 204 266 C205.95 262.32 208 256.85 210 254 C212 251.15 213.82 248.97 216 248.9 C218.18 248.83 220.53 254.38 223.1 253.6 C225.67 252.82 228.92 248.8 231.4 244.2 C233.88 239.6 235.63 232 238 226 C240.37 220 243.43 210.53 245.6 208.2 C247.77 205.87 248.83 208.57 251 212 C253.17 215.43 256.43 224.55 258.6 228.8 C260.77 233.05 262.23 234.97 264 237.5 C265.77 240.03 267.02 241.62 269.2 244 C271.38 246.38 274.47 248.73 277.1 251.8 C279.73 254.87 282.63 259.77 285 262.4 C287.37 265.03 288.4 266.07 291.3 267.6 C294.2 269.13 298.98 270.42 302.4 271.6 C305.82 272.78 309.17 273.83 311.8 274.7 C314.43 275.57 315.03 276.4 318.2 276.8 C321.37 277.2 328.7 277.05 330.8 277.1" stroke="#4d4d4d" stroke-width="1.05" fill="none"/>
<line x1="193" y1="169.4" x2="193" y2="285.25" stroke="#333" stroke-width="0.55"/>
<line x1="192.75" y1="285" x2="337.8" y2="285" stroke="#333" stroke-width="0.55"/>
<line x1="190.8" y1="279.4" x2="193" y2="279.4" stroke="#333" stroke-width="0.5"/>
<text x="190.2" y="281.4" font-size="5.76" text-anchor="end" fill="#4d4d4d" stroke="#4d4d4d" stroke-width="0.1">0</text>
<line x1="190.8" y1="241.1" x2="193" y2="241.1" stroke="#333" stroke-width="0.5"/>
<text x="190.2" y="243.1" font-size="5.76" text-anchor="end" fill="#4d4d4d" stroke="#4d4d4d" stroke-width="0.1">200</text>
<line x1="190.8" y1="202.9" x2="193" y2="202.9" stroke="#333" stroke-width="0.5"/>
<text x="190.2" y="204.9" font-size="5.76" text-anchor="end" fill="#4d4d4d" stroke="#4d4d4d" stroke-width="0.1">400</text>
<line x1="198.8" y1="285" x2="198.8" y2="287.2" stroke="#333" stroke-width="0.5"/>
<text x="198.8" y="291.5" font-size="5.76" text-anchor="middle" fill="#4d4d4d" stroke="#4d4d4d" stroke-width="0.1">0.006</text>
<line x1="236.6" y1="285" x2="236.6" y2="287.2" stroke="#333" stroke-width="0.5"/>
<text x="236.6" y="291.5" font-size="5.76" text-anchor="middle" fill="#4d4d4d" stroke="#4d4d4d" stroke-width="0.1">0.008</text>
<line x1="273.9" y1="285" x2="273.9" y2="287.2" stroke="#333" stroke-width="0.5"/>
<text x="273.9" y="291.5" font-size="5.76" text-anchor="middle" fill="#4d4d4d" stroke="#4d4d4d" stroke-width="0.1">0.010</text>
<line x1="311.5" y1="285" x2="311.5" y2="287.2" stroke="#333" stroke-width="0.5"/>
<text x="311.5" y="291.5" font-size="5.76" text-anchor="middle" fill="#4d4d4d" stroke="#4d4d4d" stroke-width="0.1">0.012</text>
<text x="177.6" y="227" font-size="5.46" text-anchor="middle" fill="#111" stroke="#111" stroke-width="0.1" transform="rotate(-90 177.6 227)">density</text>
<text x="264.5" y="164.8" font-size="6.75" text-anchor="middle" fill="#000">B2. MSE Distribution of Duration</text>
<rect x="288.1" y="176.5" width="41.2" height="46.3" fill="#fff" stroke="none" stroke-width="0.5"/>
<line x1="287.8" y1="176.8" x2="287.8" y2="223" stroke="#333" stroke-width="0.5"/>
<line x1="287.6" y1="222.8" x2="329" y2="222.8" stroke="#333" stroke-width="0.5"/>
<line x1="286.5" y1="185.8" x2="287.8" y2="185.8" stroke="#333" stroke-width="0.45"/>
<text x="285.3" y="187.3" font-size="4.4" text-anchor="end" fill="#5a5a5a" stroke="#5a5a5a" stroke-width="0.1">0.012</text>
<line x1="286.5" y1="198.8" x2="287.8" y2="198.8" stroke="#333" stroke-width="0.45"/>
<text x="285.3" y="200.3" font-size="4.4" text-anchor="end" fill="#5a5a5a" stroke="#5a5a5a" stroke-width="0.1">0.010</text>
<line x1="286.5" y1="212.4" x2="287.8" y2="212.4" stroke="#333" stroke-width="0.45"/>
<text x="285.3" y="213.9" font-size="4.4" text-anchor="end" fill="#5a5a5a" stroke="#5a5a5a" stroke-width="0.1">0.008</text>
<line x1="287.8" y1="222.8" x2="287.8" y2="224.1" stroke="#333" stroke-width="0.45"/>
<text x="287.8" y="228.4" font-size="4.4" text-anchor="middle" fill="#4a4a4a" stroke="#4a4a4a" stroke-width="0.1">−0.4</text>
<line x1="297.9" y1="222.8" x2="297.9" y2="224.1" stroke="#333" stroke-width="0.45"/>
<text x="297.9" y="228.4" font-size="4.4" text-anchor="middle" fill="#4a4a4a" stroke="#4a4a4a" stroke-width="0.1">−0.2</text>
<line x1="308.1" y1="222.8" x2="308.1" y2="224.1" stroke="#333" stroke-width="0.45"/>
<text x="308.1" y="228.4" font-size="4.4" text-anchor="middle" fill="#4a4a4a" stroke="#4a4a4a" stroke-width="0.1">0.0</text>
<line x1="318.3" y1="222.8" x2="318.3" y2="224.1" stroke="#333" stroke-width="0.45"/>
<text x="318.3" y="228.4" font-size="4.4" text-anchor="middle" fill="#4a4a4a" stroke="#4a4a4a" stroke-width="0.1">0.2</text>
<line x1="328.4" y1="222.8" x2="328.4" y2="224.1" stroke="#333" stroke-width="0.45"/>
<text x="328.4" y="228.4" font-size="4.4" text-anchor="middle" fill="#4a4a4a" stroke="#4a4a4a" stroke-width="0.1">0.4</text>
<text x="271.9" y="199.8" font-size="5.3" text-anchor="middle" fill="#111" stroke="#111" stroke-width="0.1" transform="rotate(-90 271.9 199.8)">MSE</text>
<line x1="308.05" y1="186.2" x2="308.05" y2="202.1" stroke="#333" stroke-width="0.5"/>
<line x1="308.05" y1="212.4" x2="308.05" y2="220.8" stroke="#333" stroke-width="0.5"/>
<rect x="289.1" y="202.1" width="37.9" height="10.3" fill="#fff" stroke="#333" stroke-width="0.5"/>
<line x1="289.1" y1="208.3" x2="327" y2="208.3" stroke="#333" stroke-width="0.9"/>
<circle cx="308.05" cy="186.2" r="0.95" fill="#111" stroke="none" stroke-width="0.5"/>
<circle cx="308.05" cy="179.1" r="0.95" fill="#111" stroke="none" stroke-width="0.5"/>
<rect x="383.1" y="274.9" width="7.4" height="4.6" fill="#00a087" stroke="#111" stroke-width="0.55"/>
<rect x="397.9" y="255.4" width="7.4" height="24.1" fill="#00a087" stroke="#111" stroke-width="0.55"/>
<rect x="405.3" y="241.1" width="7.4" height="38.4" fill="#00a087" stroke="#111" stroke-width="0.55"/>
<rect x="412.7" y="250.7" width="7.4" height="28.8" fill="#00a087" stroke="#111" stroke-width="0.55"/>
<rect x="420.1" y="241.1" width="7.4" height="38.4" fill="#00a087" stroke="#111" stroke-width="0.55"/>
<rect x="427.5" y="183.4" width="7.4" height="96.1" fill="#00a087" stroke="#111" stroke-width="0.55"/>
<rect x="434.9" y="221.6" width="7.4" height="57.9" fill="#00a087" stroke="#111" stroke-width="0.55"/>
<rect x="442.3" y="231.4" width="7.4" height="48.1" fill="#00a087" stroke="#111" stroke-width="0.55"/>
<rect x="449.7" y="217.1" width="7.4" height="62.4" fill="#00a087" stroke="#111" stroke-width="0.55"/>
<rect x="457.1" y="246.1" width="7.4" height="33.4" fill="#00a087" stroke="#111" stroke-width="0.55"/>
<rect x="464.5" y="260.5" width="7.4" height="19" fill="#00a087" stroke="#111" stroke-width="0.55"/>
<rect x="471.9" y="275.1" width="7.4" height="4.4" fill="#00a087" stroke="#111" stroke-width="0.55"/>
<rect x="486.7" y="275.1" width="7.4" height="4.4" fill="#00a087" stroke="#111" stroke-width="0.55"/>
<path d="M372.3 279.6 C374.02 279.3 379.65 278.58 382.6 277.8 C385.55 277.02 387.55 276.6 390 274.9 C392.45 273.2 394.87 271.02 397.3 267.6 C399.73 264.18 401.92 258.32 404.6 254.4 C407.28 250.48 410.7 247.17 413.4 244.1 C416.1 241.03 418.83 239.18 420.8 236 C422.77 232.82 423.83 228.33 425.2 225 C426.57 221.67 427.65 218.07 429 216 C430.35 213.93 431.97 212.68 433.3 212.6 C434.63 212.52 435.77 214.2 437 215.5 C438.23 216.8 438.65 218.68 440.7 220.4 C442.75 222.12 446.62 223.48 449.3 225.8 C451.98 228.12 454.3 230.73 456.8 234.3 C459.3 237.87 461.78 242.18 464.3 247.2 C466.82 252.22 469.38 259.75 471.9 264.4 C474.42 269.05 476.37 272.95 479.4 275.1 C482.43 277.25 486 276.58 490.1 277.3 C494.2 278.02 501.68 279.05 504 279.4" stroke="#4d4d4d" stroke-width="1.05" fill="none"/>
<line x1="365.8" y1="169.4" x2="365.8" y2="285.25" stroke="#333" stroke-width="0.55"/>
<line x1="365.55" y1="285" x2="510.2" y2="285" stroke="#333" stroke-width="0.55"/>
<line x1="363.6" y1="279.4" x2="365.8" y2="279.4" stroke="#333" stroke-width="0.5"/>
<text x="363" y="281.4" font-size="5.76" text-anchor="end" fill="#4d4d4d" stroke="#4d4d4d" stroke-width="0.1">0</text>
<line x1="363.6" y1="242.8" x2="365.8" y2="242.8" stroke="#333" stroke-width="0.5"/>
<text x="363" y="244.8" font-size="5.76" text-anchor="end" fill="#4d4d4d" stroke="#4d4d4d" stroke-width="0.1">2000</text>
<line x1="363.6" y1="205.3" x2="365.8" y2="205.3" stroke="#333" stroke-width="0.5"/>
<text x="363" y="207.3" font-size="5.76" text-anchor="end" fill="#4d4d4d" stroke="#4d4d4d" stroke-width="0.1">4000</text>
<line x1="394.2" y1="285" x2="394.2" y2="287.2" stroke="#333" stroke-width="0.5"/>
<text x="394.2" y="291.5" font-size="5.76" text-anchor="middle" fill="#4d4d4d" stroke="#4d4d4d" stroke-width="0.1">4e−04</text>
<line x1="430.8" y1="285" x2="430.8" y2="287.2" stroke="#333" stroke-width="0.5"/>
<text x="430.8" y="291.5" font-size="5.76" text-anchor="middle" fill="#4d4d4d" stroke="#4d4d4d" stroke-width="0.1">6e−04</text>
<line x1="467.5" y1="285" x2="467.5" y2="287.2" stroke="#333" stroke-width="0.5"/>
<text x="467.5" y="291.5" font-size="5.76" text-anchor="middle" fill="#4d4d4d" stroke="#4d4d4d" stroke-width="0.1">8e−04</text>
<line x1="504" y1="285" x2="504" y2="287.2" stroke="#333" stroke-width="0.5"/>
<text x="504" y="291.5" font-size="5.76" text-anchor="middle" fill="#4d4d4d" stroke="#4d4d4d" stroke-width="0.1">1e−03</text>
<text x="347.1" y="227" font-size="5.46" text-anchor="middle" fill="#111" stroke="#111" stroke-width="0.1" transform="rotate(-90 347.1 227)">density</text>
<text x="436.6" y="164.8" font-size="6.75" text-anchor="middle" fill="#000">B3. MSE Distribution of Alliance</text>
<rect x="472.8" y="176.5" width="36.3" height="44.7" fill="#fff" stroke="none" stroke-width="0.5"/>
<line x1="472.5" y1="180.8" x2="472.5" y2="221.4" stroke="#333" stroke-width="0.5"/>
<line x1="472.3" y1="221.2" x2="508.8" y2="221.2" stroke="#333" stroke-width="0.5"/>
<line x1="471.2" y1="190.7" x2="472.5" y2="190.7" stroke="#333" stroke-width="0.45"/>
<text x="470" y="192.2" font-size="4.4" text-anchor="end" fill="#5a5a5a" stroke="#5a5a5a" stroke-width="0.1">8e−04</text>
<line x1="471.2" y1="203.2" x2="472.5" y2="203.2" stroke="#333" stroke-width="0.45"/>
<text x="470" y="204.7" font-size="4.4" text-anchor="end" fill="#5a5a5a" stroke="#5a5a5a" stroke-width="0.1">6e−04</text>
<line x1="471.2" y1="216.3" x2="472.5" y2="216.3" stroke="#333" stroke-width="0.45"/>
<text x="470" y="217.8" font-size="4.4" text-anchor="end" fill="#5a5a5a" stroke="#5a5a5a" stroke-width="0.1">4e−04</text>
<line x1="472.7" y1="221.2" x2="472.7" y2="222.5" stroke="#333" stroke-width="0.45"/>
<text x="472.7" y="226.8" font-size="4.4" text-anchor="middle" fill="#4a4a4a" stroke="#4a4a4a" stroke-width="0.1">−0.4</text>
<line x1="481.6" y1="221.2" x2="481.6" y2="222.5" stroke="#333" stroke-width="0.45"/>
<text x="481.6" y="226.8" font-size="4.4" text-anchor="middle" fill="#4a4a4a" stroke="#4a4a4a" stroke-width="0.1">−0.2</text>
<line x1="490.5" y1="221.2" x2="490.5" y2="222.5" stroke="#333" stroke-width="0.45"/>
<text x="490.5" y="226.8" font-size="4.4" text-anchor="middle" fill="#4a4a4a" stroke="#4a4a4a" stroke-width="0.1">0.0</text>
<line x1="499.5" y1="221.2" x2="499.5" y2="222.5" stroke="#333" stroke-width="0.45"/>
<text x="499.5" y="226.8" font-size="4.4" text-anchor="middle" fill="#4a4a4a" stroke="#4a4a4a" stroke-width="0.1">0.2</text>
<line x1="508.4" y1="221.2" x2="508.4" y2="222.5" stroke="#333" stroke-width="0.45"/>
<text x="508.4" y="226.8" font-size="4.4" text-anchor="middle" fill="#4a4a4a" stroke="#4a4a4a" stroke-width="0.1">0.4</text>
<text x="455.9" y="200.5" font-size="5.3" text-anchor="middle" fill="#111" stroke="#111" stroke-width="0.1" transform="rotate(-90 455.9 200.5)">MSE</text>
<line x1="490.8" y1="182.9" x2="490.8" y2="196.4" stroke="#333" stroke-width="0.5"/>
<line x1="490.8" y1="206.3" x2="490.8" y2="218.7" stroke="#333" stroke-width="0.5"/>
<rect x="474.2" y="196.4" width="33.2" height="9.9" fill="#fff" stroke="#333" stroke-width="0.5"/>
<line x1="474.2" y1="202.2" x2="507.4" y2="202.2" stroke="#333" stroke-width="0.9"/>
<rect x="554.7" y="267.6" width="6.33" height="11.9" fill="#00a087" stroke="#111" stroke-width="0.55"/>
<rect x="561.03" y="267.6" width="6.33" height="11.9" fill="#00a087" stroke="#111" stroke-width="0.55"/>
<rect x="567.36" y="192.1" width="6.33" height="87.4" fill="#00a087" stroke="#111" stroke-width="0.55"/>
<rect x="573.69" y="242.3" width="6.33" height="37.2" fill="#00a087" stroke="#111" stroke-width="0.55"/>
<rect x="580.02" y="217.3" width="6.33" height="62.2" fill="#00a087" stroke="#111" stroke-width="0.55"/>
<rect x="586.35" y="204.5" width="6.33" height="75" fill="#00a087" stroke="#111" stroke-width="0.55"/>
<rect x="592.68" y="229.4" width="6.33" height="50.1" fill="#00a087" stroke="#111" stroke-width="0.55"/>
<rect x="599.01" y="236" width="6.33" height="43.5" fill="#00a087" stroke="#111" stroke-width="0.55"/>
<rect x="605.34" y="248.3" width="6.33" height="31.2" fill="#00a087" stroke="#111" stroke-width="0.55"/>
<rect x="611.67" y="235.8" width="6.33" height="43.7" fill="#00a087" stroke="#111" stroke-width="0.55"/>
<rect x="618" y="229.4" width="6.33" height="50.1" fill="#00a087" stroke="#111" stroke-width="0.55"/>
<rect x="624.33" y="267.4" width="6.33" height="12.1" fill="#00a087" stroke="#111" stroke-width="0.55"/>
<rect x="630.66" y="261" width="6.33" height="18.5" fill="#00a087" stroke="#111" stroke-width="0.55"/>
<rect x="636.99" y="267.4" width="6.33" height="12.1" fill="#00a087" stroke="#111" stroke-width="0.55"/>
<rect x="643.32" y="254.6" width="6.33" height="24.9" fill="#00a087" stroke="#111" stroke-width="0.55"/>
<rect x="649.65" y="273.5" width="6.33" height="6" fill="#00a087" stroke="#111" stroke-width="0.55"/>
<rect x="655.98" y="267.4" width="6.33" height="12.1" fill="#00a087" stroke="#111" stroke-width="0.55"/>
<rect x="662.31" y="273.5" width="6.33" height="6" fill="#00a087" stroke="#111" stroke-width="0.55"/>
<rect x="668.64" y="267.4" width="6.33" height="12.1" fill="#00a087" stroke="#111" stroke-width="0.55"/>
<path d="M545.1 277.1 C546.7 275.52 552.13 271.38 554.7 267.6 C557.27 263.82 558.42 258.82 560.5 254.4 C562.58 249.98 564.98 245.02 567.2 241.1 C569.42 237.18 571.6 233.55 573.8 230.9 C576 228.25 578.27 226.43 580.4 225.2 C582.53 223.97 584.5 223.37 586.6 223.5 C588.7 223.63 590.93 225 593 226 C595.07 227 597 228.08 599 229.5 C601 230.92 602.42 232.88 605 234.5 C607.58 236.12 611.87 237.62 614.5 239.2 C617.13 240.78 618.95 242.15 620.8 244 C622.65 245.85 623.75 248.2 625.6 250.3 C627.45 252.4 629.53 254.75 631.9 256.6 C634.27 258.45 636.9 260.08 639.8 261.4 C642.7 262.72 645.88 263.32 649.3 264.5 C652.72 265.68 656.88 267.18 660.3 268.5 C663.72 269.82 666.77 271.22 669.8 272.4 C672.83 273.58 677.05 275.07 678.5 275.6" stroke="#4d4d4d" stroke-width="1.05" fill="none"/>
<line x1="538.8" y1="169.4" x2="538.8" y2="285.25" stroke="#333" stroke-width="0.55"/>
<line x1="538.55" y1="285" x2="684.4" y2="285" stroke="#333" stroke-width="0.55"/>
<line x1="536.6" y1="279.4" x2="538.8" y2="279.4" stroke="#333" stroke-width="0.5"/>
<text x="536" y="281.4" font-size="5.76" text-anchor="end" fill="#4d4d4d" stroke="#4d4d4d" stroke-width="0.1">0</text>
<line x1="536.6" y1="248.2" x2="538.8" y2="248.2" stroke="#333" stroke-width="0.5"/>
<text x="536" y="250.2" font-size="5.76" text-anchor="end" fill="#4d4d4d" stroke="#4d4d4d" stroke-width="0.1">500</text>
<line x1="536.6" y1="217.4" x2="538.8" y2="217.4" stroke="#333" stroke-width="0.5"/>
<text x="536" y="219.4" font-size="5.76" text-anchor="end" fill="#4d4d4d" stroke="#4d4d4d" stroke-width="0.1">1000</text>
<line x1="536.6" y1="186.3" x2="538.8" y2="186.3" stroke="#333" stroke-width="0.5"/>
<text x="536" y="188.3" font-size="5.76" text-anchor="end" fill="#4d4d4d" stroke="#4d4d4d" stroke-width="0.1">1500</text>
<line x1="539.3" y1="285" x2="539.3" y2="287.2" stroke="#333" stroke-width="0.5"/>
<text x="539.3" y="291.5" font-size="5.76" text-anchor="middle" fill="#4d4d4d" stroke="#4d4d4d" stroke-width="0.1">0.0005</text>
<line x1="570.6" y1="285" x2="570.6" y2="287.2" stroke="#333" stroke-width="0.5"/>
<text x="570.6" y="291.5" font-size="5.76" text-anchor="middle" fill="#4d4d4d" stroke="#4d4d4d" stroke-width="0.1">0.0010</text>
<line x1="602.4" y1="285" x2="602.4" y2="287.2" stroke="#333" stroke-width="0.5"/>
<text x="602.4" y="291.5" font-size="5.76" text-anchor="middle" fill="#4d4d4d" stroke="#4d4d4d" stroke-width="0.1">0.0015</text>
<line x1="634" y1="285" x2="634" y2="287.2" stroke="#333" stroke-width="0.5"/>
<text x="634" y="291.5" font-size="5.76" text-anchor="middle" fill="#4d4d4d" stroke="#4d4d4d" stroke-width="0.1">0.0020</text>
<line x1="665.3" y1="285" x2="665.3" y2="287.2" stroke="#333" stroke-width="0.5"/>
<text x="665.3" y="291.5" font-size="5.76" text-anchor="middle" fill="#4d4d4d" stroke="#4d4d4d" stroke-width="0.1">0.0025</text>
<text x="521.4" y="227" font-size="5.46" text-anchor="middle" fill="#111" stroke="#111" stroke-width="0.1" transform="rotate(-90 521.4 227)">density</text>
<text x="606.2" y="164.8" font-size="6.75" text-anchor="middle" fill="#000">B4. MSE Distribution of War</text>
<rect x="634" y="176.5" width="41.5" height="38.9" fill="#fff" stroke="none" stroke-width="0.5"/>
<line x1="633.7" y1="176.8" x2="633.7" y2="215.6" stroke="#333" stroke-width="0.5"/>
<line x1="633.5" y1="215.4" x2="675.2" y2="215.4" stroke="#333" stroke-width="0.5"/>
<line x1="632.4" y1="183.5" x2="633.7" y2="183.5" stroke="#333" stroke-width="0.45"/>
<text x="631.2" y="185" font-size="4.4" text-anchor="end" fill="#5a5a5a" stroke="#5a5a5a" stroke-width="0.1">0.0024</text>
<line x1="632.4" y1="191" x2="633.7" y2="191" stroke="#333" stroke-width="0.45"/>
<text x="631.2" y="192.5" font-size="4.4" text-anchor="end" fill="#5a5a5a" stroke="#5a5a5a" stroke-width="0.1">0.0020</text>
<line x1="632.4" y1="198.7" x2="633.7" y2="198.7" stroke="#333" stroke-width="0.45"/>
<text x="631.2" y="200.2" font-size="4.4" text-anchor="end" fill="#5a5a5a" stroke="#5a5a5a" stroke-width="0.1">0.0016</text>
<line x1="632.4" y1="206.3" x2="633.7" y2="206.3" stroke="#333" stroke-width="0.45"/>
<text x="631.2" y="207.8" font-size="4.4" text-anchor="end" fill="#5a5a5a" stroke="#5a5a5a" stroke-width="0.1">0.0012</text>
<line x1="632.4" y1="214" x2="633.7" y2="214" stroke="#333" stroke-width="0.45"/>
<text x="631.2" y="215.5" font-size="4.4" text-anchor="end" fill="#5a5a5a" stroke="#5a5a5a" stroke-width="0.1">0.0008</text>
<line x1="633.9" y1="215.4" x2="633.9" y2="216.7" stroke="#333" stroke-width="0.45"/>
<text x="633.9" y="221" font-size="4.4" text-anchor="middle" fill="#4a4a4a" stroke="#4a4a4a" stroke-width="0.1">−0.4</text>
<line x1="644.1" y1="215.4" x2="644.1" y2="216.7" stroke="#333" stroke-width="0.45"/>
<text x="644.1" y="221" font-size="4.4" text-anchor="middle" fill="#4a4a4a" stroke="#4a4a4a" stroke-width="0.1">−0.2</text>
<line x1="654.4" y1="215.4" x2="654.4" y2="216.7" stroke="#333" stroke-width="0.45"/>
<text x="654.4" y="221" font-size="4.4" text-anchor="middle" fill="#4a4a4a" stroke="#4a4a4a" stroke-width="0.1">0.0</text>
<line x1="664.6" y1="215.4" x2="664.6" y2="216.7" stroke="#333" stroke-width="0.45"/>
<text x="664.6" y="221" font-size="4.4" text-anchor="middle" fill="#4a4a4a" stroke="#4a4a4a" stroke-width="0.1">0.2</text>
<line x1="674.7" y1="215.4" x2="674.7" y2="216.7" stroke="#333" stroke-width="0.45"/>
<text x="674.7" y="221" font-size="4.4" text-anchor="middle" fill="#4a4a4a" stroke="#4a4a4a" stroke-width="0.1">0.4</text>
<text x="615.1" y="196.4" font-size="5.3" text-anchor="middle" fill="#111" stroke="#111" stroke-width="0.1" transform="rotate(-90 615.1 196.4)">MSE</text>
<line x1="654.45" y1="178.4" x2="654.45" y2="195.3" stroke="#333" stroke-width="0.5"/>
<line x1="654.45" y1="206.3" x2="654.45" y2="212.6" stroke="#333" stroke-width="0.5"/>
<rect x="635.3" y="195.3" width="38.3" height="11" fill="#fff" stroke="#333" stroke-width="0.5"/>
<line x1="635.3" y1="201.5" x2="673.6" y2="201.5" stroke="#333" stroke-width="0.9"/>
<clipPath id="c1"><rect x="22.1" y="314.6" width="150.1" height="116"/></clipPath>
<rect x="22.1" y="314.6" width="150.1" height="116" fill="#ebebeb" stroke="none" stroke-width="0.5"/>
<g clip-path="url(#c1)"><line x1="45.5" y1="314.6" x2="45.5" y2="430.6" stroke="#fff" stroke-width="0.3"/><line x1="79" y1="314.6" x2="79" y2="430.6" stroke="#fff" stroke-width="0.3"/><line x1="112.6" y1="314.6" x2="112.6" y2="430.6" stroke="#fff" stroke-width="0.3"/><line x1="146.2" y1="314.6" x2="146.2" y2="430.6" stroke="#fff" stroke-width="0.3"/><line x1="22.1" y1="408.2" x2="172.2" y2="408.2" stroke="#fff" stroke-width="0.3"/><line x1="22.1" y1="383.1" x2="172.2" y2="383.1" stroke="#fff" stroke-width="0.3"/><line x1="22.1" y1="358" x2="172.2" y2="358" stroke="#fff" stroke-width="0.3"/><line x1="22.1" y1="333" x2="172.2" y2="333" stroke="#fff" stroke-width="0.3"/><line x1="28.7" y1="314.6" x2="28.7" y2="430.6" stroke="#fff" stroke-width="0.6"/><line x1="62.3" y1="314.6" x2="62.3" y2="430.6" stroke="#fff" stroke-width="0.6"/><line x1="95.8" y1="314.6" x2="95.8" y2="430.6" stroke="#fff" stroke-width="0.6"/><line x1="129.4" y1="314.6" x2="129.4" y2="430.6" stroke="#fff" stroke-width="0.6"/><line x1="162.9" y1="314.6" x2="162.9" y2="430.6" stroke="#fff" stroke-width="0.6"/><line x1="22.1" y1="420.7" x2="172.2" y2="420.7" stroke="#fff" stroke-width="0.6"/><line x1="22.1" y1="395.6" x2="172.2" y2="395.6" stroke="#fff" stroke-width="0.6"/><line x1="22.1" y1="370.6" x2="172.2" y2="370.6" stroke="#fff" stroke-width="0.6"/><line x1="22.1" y1="345.5" x2="172.2" y2="345.5" stroke="#fff" stroke-width="0.6"/><line x1="22.1" y1="320.5" x2="172.2" y2="320.5" stroke="#fff" stroke-width="0.6"/>
<path d="M30.71 416.78h0.01M29.2 424.9h0.01M30.7 417.73h0.01M30.5 412.18h0.01M31.04 419.83h0.01M29.6 410.62h0.01M31.78 410.56h0.01M28.43 420.93h0.01M29.87 425.89h0.01M30.35 420.25h0.01M28.36 411.71h0.01M28.54 418.09h0.01M29.34 412.27h0.01M30.29 409.52h0.01M31.92 416.58h0.01M30.87 417.93h0.01M31.03 417.6h0.01M29.5 416.87h0.01M29.85 426.16h0.01M29.97 423.45h0.01M29.29 414.42h0.01M28.6 413.97h0.01M29.4 422.18h0.01M29.2 423.56h0.01M29.79 425.48h0.01M29.2 409.01h0.01M29.24 424.66h0.01M28.95 425.86h0.01M31.01 410.26h0.01M29.02 422.39h0.01M29.73 410.5h0.01M29.61 425.58h0.01M29.36 411.03h0.01M28.56 410.74h0.01M28.76 422.71h0.01M30.01 418.62h0.01M31.45 412.28h0.01M31.07 411.25h0.01M30.11 411h0.01M29.46 412.66h0.01M29.66 425.7h0.01M32.1 414.23h0.01M30 412.62h0.01M29.77 423.7h0.01M32.55 410.73h0.01M29.41 412.67h0.01M29.19 422.29h0.01M28.62 414.1h0.01M30.81 410.55h0.01M30.89 413.18h0.01M30.25 415.39h0.01M29.15 425.5h0.01M31.54 418.88h0.01M28.96 412.14h0.01M29.95 424.62h0.01M29.12 413.29h0.01M31.01 421.72h0.01M32.39 412.38h0.01M29.6 424.17h0.01M28.75 416.25h0.01M32.44 409.67h0.01M31.33 413.1h0.01M31.84 413.42h0.01M29.36 419.26h0.01M31.4 412.02h0.01M29.28 410.18h0.01M31.55 418.62h0.01M29.29 419.57h0.01M28.7 424.78h0.01M29.46 409.29h0.01M28.56 416.67h0.01M29.89 412.03h0.01M28.79 418.84h0.01M32.13 415.23h0.01M29.38 425.86h0.01M30.13 420.89h0.01M28.45 411.41h0.01M32.21 409.31h0.01M31.27 421.06h0.01M31.04 409.37h0.01M31.38 417.29h0.01M32.6 414.49h0.01M30.65 410.29h0.01M30.91 421.68h0.01M30.34 421.68h0.01M30.69 422.64h0.01M31.25 415.05h0.01M30.09 424.49h0.01M31.7 416.18h0.01M29.59 423.85h0.01M29.63 419.75h0.01M30.55 419.02h0.01M31.05 410.38h0.01M29.69 426.09h0.01M29.44 421.53h0.01M29.99 421.64h0.01M31.9 416.58h0.01M31.53 410.44h0.01M30.89 409.51h0.01M29.27 417.27h0.01M29.84 421.01h0.01M31.55 419.57h0.01M28.35 413.4h0.01M31.22 414.18h0.01M29.03 412.48h0.01M29.64 424.58h0.01M32.13 416.6h0.01M31.16 414.62h0.01M30.15 412.41h0.01M30.62 422.86h0.01M29.13 424.14h0.01M29.47 419.03h0.01M30.43 411.34h0.01M30.32 423.4h0.01M31.18 421.23h0.01M29.03 413.76h0.01M29.48 416.75h0.01M30.08 412.68h0.01M30.01 419.76h0.01M31.91 414.42h0.01M29.04 425.89h0.01M28.44 410.28h0.01M28.39 424.01h0.01M30.04 421.19h0.01M31.7 414.32h0.01M28.88 409.33h0.01M28.41 416.82h0.01M28.87 423.27h0.01M28.5 411.42h0.01M29.84 419.82h0.01M30.56 419.84h0.01M30.73 422.89h0.01M28.93 420.77h0.01M29.06 417.17h0.01M30.33 409.19h0.01M28.84 421.28h0.01M29.79 413.68h0.01M29.91 420.99h0.01M30.97 419.57h0.01M31.71 415.77h0.01M28.48 424.59h0.01M29.66 425.04h0.01M30.25 411.23h0.01M31.46 419.76h0.01M30.75 415.48h0.01M30.02 424.12h0.01M29.15 425.24h0.01M28.98 420.2h0.01M30.73 421.42h0.01M30.73 420.04h0.01M32.17 412.67h0.01M29.9 425.86h0.01M31.41 418.24h0.01M32.21 414.51h0.01M29.1 423.72h0.01M30.2 410.42h0.01M31.27 418.47h0.01M28.42 417.38h0.01M28.46 422.92h0.01M28.74 422.76h0.01M31.69 414.76h0.01M28.94 411.42h0.01M31.22 417.88h0.01M29.93 423.45h0.01M29.2 425.27h0.01M28.46 425.33h0.01M30.56 412.81h0.01M31.43 413.99h0.01M30.08 419.99h0.01M29.61 423.51h0.01M30.56 409.05h0.01M33.23 413.2h0.01M30.04 412.81h0.01M33.84 410.19h0.01M31.86 407.61h0.01M31.68 410.03h0.01M32.03 406.22h0.01M33.85 410.13h0.01M31 412.41h0.01M31.81 409.93h0.01M53.16 405.46h0.01M47.15 412h0.01M39.47 407.17h0.01M45.88 408.19h0.01M45.5 404.58h0.01M50.3 404.63h0.01M54.9 402.98h0.01M38.61 408.3h0.01M42.06 406.21h0.01M53.87 404.17h0.01M40.38 409.82h0.01M43.79 403.88h0.01M47.79 405.54h0.01M49 401.05h0.01M53.93 396.22h0.01M39.12 408.82h0.01M56.9 398.6h0.01M58.88 401.16h0.01M57.63 401.06h0.01M52.58 401.85h0.01M53.35 396.35h0.01M34.26 407.97h0.01M34.27 414.21h0.01M58.27 400.71h0.01M46.74 405.06h0.01M51.7 402.85h0.01M37.98 414.44h0.01M46.2 403.4h0.01M38.92 411.28h0.01M60.35 399.37h0.01M36.5 414.85h0.01M52.96 400.02h0.01M45.24 401.49h0.01M32.35 411.72h0.01M35.2 406.13h0.01M44.22 406.82h0.01M49.71 410.43h0.01M53.89 399.43h0.01M48.52 400.2h0.01M49.06 409.72h0.01M42.15 412.27h0.01M54.54 402.33h0.01M58.73 402.62h0.01M53.85 401.65h0.01M53.6 404.2h0.01M46.93 407.9h0.01M49.56 401.69h0.01M57.88 397.74h0.01M49.34 399.8h0.01M45.68 410.25h0.01M52.21 402.81h0.01M31.51 409.96h0.01M39.52 408.02h0.01M37.74 408.92h0.01M41.4 411.48h0.01M48.44 408.26h0.01M58.04 395.23h0.01M32.69 408.58h0.01M35.14 413.87h0.01M46.51 406.89h0.01M52.47 409.51h0.01M42.55 402.51h0.01M42.37 406.09h0.01M47.69 403.25h0.01M42.15 409.97h0.01M35.75 414.89h0.01M45.53 409.97h0.01M38.47 418.36h0.01M36.49 414.18h0.01M46.9 407.25h0.01M49.14 408.61h0.01M48.13 410.29h0.01M50.68 406.38h0.01M45.43 405.84h0.01M48.3 406.64h0.01M50.04 400.68h0.01M46.66 399.79h0.01M50.69 411.15h0.01M52.87 401.92h0.01M57.51 400.47h0.01M42.38 406.5h0.01M46.63 400.91h0.01M53.71 402.32h0.01M61.97 403.16h0.01M35.33 414.48h0.01M44.03 405.12h0.01M48.14 405.42h0.01M49.49 398.98h0.01M42.02 405.05h0.01M42.18 407.12h0.01M37.29 415.28h0.01M49.95 403.5h0.01M44.33 405.77h0.01M40.31 402.47h0.01M39.34 403.52h0.01M87.33 372.99h0.01M63.67 396.74h0.01M60.58 392.63h0.01M80.68 380.2h0.01M63.1 397.31h0.01M61.57 394.37h0.01M81.93 381.18h0.01M71.11 390.22h0.01M63.11 394.34h0.01M94.49 381.46h0.01M74.68 389.39h0.01M66.04 385.78h0.01M88.66 376.22h0.01M70.13 388.51h0.01M73.45 391.16h0.01M81.1 373.41h0.01M79.9 387.29h0.01M88.09 376.45h0.01M73.36 382.95h0.01M88.21 371.27h0.01M58.74 390.96h0.01M65.49 400.69h0.01M91.8 379.59h0.01M64.53 394.77h0.01M68.46 394.02h0.01M76.92 386.59h0.01M74.32 395.49h0.01M71.88 382.7h0.01M84.78 383.76h0.01M84.01 375.26h0.01M88.31 381.72h0.01M88.65 372.29h0.01M83.53 382.1h0.01M75.84 391.97h0.01M90.6 372.27h0.01M65.12 391.33h0.01M93.1 376.33h0.01M61.64 392.1h0.01M67.71 397.58h0.01M79.27 385.2h0.01M64.03 396.49h0.01M67.01 392.28h0.01M67.79 394.45h0.01M65.6 394.49h0.01M78.72 386.9h0.01M71.57 398.23h0.01M65.2 383.98h0.01M75.59 387.58h0.01M91.11 375.63h0.01M74.87 383.88h0.01M90.64 372.37h0.01M58.48 394.38h0.01M84.75 377.93h0.01M65.97 396.23h0.01M69.88 395.42h0.01M82.37 385.28h0.01M79.63 388.8h0.01M61.69 400.38h0.01M88.02 380.18h0.01M85.17 383.7h0.01M117.39 354.08h0.01M131.98 334.02h0.01M112.87 353.8h0.01M132.31 337.66h0.01M119.55 351.14h0.01M106.61 356.63h0.01M103.19 353.1h0.01M108.86 354.6h0.01M105.22 346.9h0.01M131.65 336.36h0.01M109.69 353.9h0.01M118.76 346.44h0.01M140.02 331.67h0.01M121.03 344.08h0.01M117.3 347.07h0.01M109.96 352.75h0.01M101.35 361.49h0.01M134.32 328.5h0.01M108.38 356.77h0.01M101.75 367.6h0.01M126.94 342.35h0.01M131.44 335.34h0.01M103.56 361.28h0.01M116.07 358.61h0.01M145.25 325.85h0.01M152.77 327.61h0.01M145.14 329.6h0.01M145.44 327.37h0.01M151.78 324.73h0.01M139.73 331.56h0.01M151.3 329.32h0.01M148.64 329.67h0.01M150.85 330.02h0.01M153.49 323.42h0.01M149.1 331.03h0.01M154.25 321.16h0.01M154.28 327.89h0.01M150.19 328.04h0.01M142.27 327.51h0.01M146.21 331.98h0.01M149.52 333.48h0.01M143.41 333.96h0.01M148.17 326.52h0.01M156.45 329.87h0.01M151.14 331.06h0.01M145.33 331.67h0.01M149.52 328.87h0.01M149.02 328.86h0.01M145.72 336.65h0.01M149.92 326.25h0.01M150.66 324.56h0.01M153.63 327.86h0.01M148.17 330.38h0.01M149.73 329.48h0.01M143.24 328.63h0.01M151.95 330.99h0.01M143.89 334.52h0.01M146.21 326.12h0.01M151.13 327.43h0.01M149.88 333.29h0.01M152.64 323.82h0.01M150.17 330.58h0.01M146.23 323.86h0.01M146.82 333.59h0.01M154.24 325.19h0.01M151.5 325.68h0.01M142.04 333.91h0.01M147.76 328.06h0.01M150.27 325.49h0.01M144.23 328.8h0.01M143.75 337.24h0.01M151.46 329.05h0.01M153.22 326.99h0.01M149.48 329.07h0.01M153.71 328.47h0.01M155.94 326.99h0.01M144.6 329.84h0.01M154.77 326.53h0.01M145.41 329.14h0.01M157.09 327.67h0.01M163.81 330.86h0.01M160.98 324.59h0.01M165.23 323.78h0.01M163.61 320.58h0.01M160.4 331.82h0.01M157.53 323.84h0.01M165.12 323.63h0.01M162.33 320.64h0.01M164.58 322.01h0.01M164.09 325.86h0.01M156.95 325.95h0.01M41.5 398.5h0.01M39 393.5h0.01M55 405h0.01M63 410h0.01M84 392h0.01M96 374h0.01M123 359h0.01M134 344h0.01M126 348.7h0.01M131.4 345.9h0.01M141.9 343h0.01M151.3 335h0.01M156.5 334.5h0.01M163.7 331.2h0.01M161.3 327.4h0.01M165.1 324.5h0.01M113.4 342.5h0.01M120.5 343h0.01" stroke="#000" stroke-width="1.4" stroke-linecap="round" fill="none" />
<path d="M29.1 417.34 L31.41 414.98 L33.71 412.95 L36.02 411.17 L38.32 409.6 L40.63 408.19 L42.93 406.9 L45.24 405.68 L47.54 404.52 L49.85 403.38 L52.15 402.24 L54.46 401.08 L56.76 399.88 L59.07 398.63 L61.37 397.32 L63.68 395.95 L65.98 394.51 L68.29 393 L70.59 391.41 L72.9 389.75 L75.2 388.02 L77.51 386.22 L79.81 384.36 L82.12 382.45 L84.42 380.48 L86.73 378.47 L89.03 376.43 L91.34 374.35 L93.64 372.25 L95.95 370.14 L98.25 368.02 L100.56 365.89 L102.86 363.78 L105.17 361.67 L107.47 359.59 L109.78 357.52 L112.08 355.49 L114.39 353.49 L116.69 351.52 L119 349.6 L121.3 347.71 L123.61 345.88 L125.91 344.09 L128.22 342.35 L130.52 340.66 L132.83 339.02 L135.13 337.43 L137.44 335.9 L139.74 334.42 L142.05 332.99 L144.35 331.62 L146.66 330.31 L148.96 329.06 L151.27 327.87 L153.57 326.76 L155.88 325.71 L158.18 324.74 L160.49 323.86 L162.79 323.08 L165.1 322.4" stroke="#e8a04f" stroke-width="1.1" fill="none" stroke-linejoin="round"/>
</g>
<line x1="28.7" y1="430.6" x2="28.7" y2="432.2" stroke="#333" stroke-width="0.45"/>
<text x="28.7" y="435.9" font-size="4.15" text-anchor="middle" fill="#444" stroke="#444" stroke-width="0.1">0.0</text>
<line x1="62.3" y1="430.6" x2="62.3" y2="432.2" stroke="#333" stroke-width="0.45"/>
<text x="62.3" y="435.9" font-size="4.15" text-anchor="middle" fill="#444" stroke="#444" stroke-width="0.1">0.2</text>
<line x1="95.8" y1="430.6" x2="95.8" y2="432.2" stroke="#333" stroke-width="0.45"/>
<text x="95.8" y="435.9" font-size="4.15" text-anchor="middle" fill="#444" stroke="#444" stroke-width="0.1">0.4</text>
<line x1="129.4" y1="430.6" x2="129.4" y2="432.2" stroke="#333" stroke-width="0.45"/>
<text x="129.4" y="435.9" font-size="4.15" text-anchor="middle" fill="#444" stroke="#444" stroke-width="0.1">0.6</text>
<line x1="162.9" y1="430.6" x2="162.9" y2="432.2" stroke="#333" stroke-width="0.45"/>
<text x="162.9" y="435.9" font-size="4.15" text-anchor="middle" fill="#444" stroke="#444" stroke-width="0.1">0.8</text>
<line x1="20.5" y1="420.7" x2="22.1" y2="420.7" stroke="#333" stroke-width="0.45"/>
<text x="19.8" y="422.15" font-size="4.15" text-anchor="end" fill="#444" stroke="#444" stroke-width="0.1">0.0</text>
<line x1="20.5" y1="395.6" x2="22.1" y2="395.6" stroke="#333" stroke-width="0.45"/>
<text x="19.8" y="397.05" font-size="4.15" text-anchor="end" fill="#444" stroke="#444" stroke-width="0.1">0.2</text>
<line x1="20.5" y1="370.6" x2="22.1" y2="370.6" stroke="#333" stroke-width="0.45"/>
<text x="19.8" y="372.05" font-size="4.15" text-anchor="end" fill="#444" stroke="#444" stroke-width="0.1">0.4</text>
<line x1="20.5" y1="345.5" x2="22.1" y2="345.5" stroke="#333" stroke-width="0.45"/>
<text x="19.8" y="346.95" font-size="4.15" text-anchor="end" fill="#444" stroke="#444" stroke-width="0.1">0.6</text>
<line x1="20.5" y1="320.5" x2="22.1" y2="320.5" stroke="#333" stroke-width="0.45"/>
<text x="19.8" y="321.95" font-size="4.15" text-anchor="end" fill="#444" stroke="#444" stroke-width="0.1">0.8</text>
<text x="96.5" y="310.7" font-size="6.8" text-anchor="middle" fill="#000">C1.Fitness of States</text>
<text x="92.4" y="442.6" font-size="5.45" text-anchor="middle" fill="#000" stroke="#000" stroke-width="0.1">Test.States</text>
<text x="3.95" y="372.5" font-size="5.35" text-anchor="middle" fill="#000" stroke="#000" stroke-width="0.1" transform="rotate(-90 3.95 372.5)">Predicted</text>
<text x="165.5" y="418.1" font-size="8.2" text-anchor="end" fill="#000">Cor=0.989</text>
<clipPath id="c2"><rect x="192.8" y="314.6" width="150.7" height="116"/></clipPath>
<rect x="192.8" y="314.6" width="150.7" height="116" fill="#ebebeb" stroke="none" stroke-width="0.5"/>
<g clip-path="url(#c2)"><line x1="197.9" y1="314.6" x2="197.9" y2="430.6" stroke="#fff" stroke-width="0.3"/><line x1="237.3" y1="314.6" x2="237.3" y2="430.6" stroke="#fff" stroke-width="0.3"/><line x1="276.7" y1="314.6" x2="276.7" y2="430.6" stroke="#fff" stroke-width="0.3"/><line x1="316.2" y1="314.6" x2="316.2" y2="430.6" stroke="#fff" stroke-width="0.3"/><line x1="192.8" y1="429.6" x2="343.5" y2="429.6" stroke="#fff" stroke-width="0.3"/><line x1="192.8" y1="394.4" x2="343.5" y2="394.4" stroke="#fff" stroke-width="0.3"/><line x1="192.8" y1="359.1" x2="343.5" y2="359.1" stroke="#fff" stroke-width="0.3"/><line x1="192.8" y1="323.9" x2="343.5" y2="323.9" stroke="#fff" stroke-width="0.3"/><line x1="217.6" y1="314.6" x2="217.6" y2="430.6" stroke="#fff" stroke-width="0.6"/><line x1="257" y1="314.6" x2="257" y2="430.6" stroke="#fff" stroke-width="0.6"/><line x1="296.5" y1="314.6" x2="296.5" y2="430.6" stroke="#fff" stroke-width="0.6"/><line x1="335.9" y1="314.6" x2="335.9" y2="430.6" stroke="#fff" stroke-width="0.6"/><line x1="192.8" y1="412" x2="343.5" y2="412" stroke="#fff" stroke-width="0.6"/><line x1="192.8" y1="376.8" x2="343.5" y2="376.8" stroke="#fff" stroke-width="0.6"/><line x1="192.8" y1="341.5" x2="343.5" y2="341.5" stroke="#fff" stroke-width="0.6"/>
<path d="M234.47 394.97h0.01M207.33 409.18h0.01M213.41 402.71h0.01M228.3 398.92h0.01M243.15 384.81h0.01M237.96 407.31h0.01M216.31 399.44h0.01M198.87 418.06h0.01M211.79 412.92h0.01M213.07 411.03h0.01M210.5 408.59h0.01M243.78 388.81h0.01M221.63 403.7h0.01M242.55 383.68h0.01M224.21 397.38h0.01M232.04 396.94h0.01M226.79 405.51h0.01M226.58 403.77h0.01M239.4 394.79h0.01M204.84 406.24h0.01M238.13 392.27h0.01M223.8 403.56h0.01M228.08 407.71h0.01M228.27 385.67h0.01M208.21 415.73h0.01M219.82 398.09h0.01M212.3 412.32h0.01M239.87 382.16h0.01M237.92 391.44h0.01M217.22 413.36h0.01M226.71 393.9h0.01M233.39 405.15h0.01M207.34 415.54h0.01M235.54 398.57h0.01M199.13 416.81h0.01M210.62 414.97h0.01M223.72 403.42h0.01M200.45 410.06h0.01M201.36 421.62h0.01M203.6 414.1h0.01M220.62 406.19h0.01M248.22 384.97h0.01M210.17 413.1h0.01M202.84 403.24h0.01M211.67 401.47h0.01M232.4 401.75h0.01M233.54 399.97h0.01M235.82 398.54h0.01M239.37 383.62h0.01M236.27 383.72h0.01M208.25 412.27h0.01M227.15 401.56h0.01M206.52 410.31h0.01M226.21 410.64h0.01M242.15 390.05h0.01M201.35 418.27h0.01M214.69 414h0.01M205.56 404.41h0.01M233.7 393.37h0.01M209.61 420.02h0.01M235.38 390.51h0.01M198.47 420.07h0.01M205.4 422.03h0.01M235.71 390.46h0.01M218.38 406.54h0.01M205.65 415.59h0.01M210.35 405.11h0.01M204.92 416.21h0.01M233.65 392.24h0.01M207.97 412.98h0.01M213.52 399.58h0.01M209.22 412.35h0.01M210.34 414.69h0.01M224.49 389.39h0.01M245.46 382.97h0.01M245.05 388.33h0.01M237.76 404.25h0.01M209.46 411.78h0.01M218.99 403.91h0.01M215.84 404.54h0.01M214.67 413.45h0.01M224.89 406.25h0.01M213.46 416h0.01M222.41 408.55h0.01M228.74 387.74h0.01M197.51 418.67h0.01M201.1 418.95h0.01M219.88 398.22h0.01M214.93 409.22h0.01M219.54 412.6h0.01M210.71 410.55h0.01M215.43 395.5h0.01M209.3 398.77h0.01M233.74 387.57h0.01M216.7 402.82h0.01M241.9 393.16h0.01M245.23 389.57h0.01M222.65 400.39h0.01M248.04 386.73h0.01M209.09 411.96h0.01M198.64 417.02h0.01M205.59 406.73h0.01M222.65 396.3h0.01M242.51 393.87h0.01M218.29 411.15h0.01M232.46 391.53h0.01M247.04 386.61h0.01M224.93 391.72h0.01M215.8 405.88h0.01M225.38 400.99h0.01M216.78 411.49h0.01M206.41 418.97h0.01M203.52 417.91h0.01M221.69 404.76h0.01M211.75 421.65h0.01M201.52 420.39h0.01M234.13 385.51h0.01M210.66 411.5h0.01M215.75 409.37h0.01M236.59 385.69h0.01M229.38 388.07h0.01M240.43 394.01h0.01M232.04 395.78h0.01M192.42 413.57h0.01M249.63 389.85h0.01M217.15 402.53h0.01M245.71 387.82h0.01M234.63 394.91h0.01M211.69 409.31h0.01M204.49 417.28h0.01M222.2 396.32h0.01M216.27 412.42h0.01M209.08 406.44h0.01M239.61 396.59h0.01M227.58 386.84h0.01M206.96 417.55h0.01M244.71 386.33h0.01M204.59 417.37h0.01M229.79 403.09h0.01M213 412.05h0.01M216.86 407.51h0.01M204.54 422.88h0.01M204.52 421.46h0.01M249.66 387.05h0.01M217.24 396.17h0.01M222.57 411.36h0.01M229.37 393.27h0.01M251.42 395.93h0.01M223.56 407.84h0.01M209.75 417.96h0.01M207.81 421.34h0.01M234.53 390.56h0.01M201.74 424.92h0.01M193.16 414.72h0.01M237.53 390.81h0.01M240.88 394.46h0.01M253.29 393.75h0.01M217.97 405.22h0.01M247.66 393.04h0.01M207.53 410.23h0.01M232.31 397.46h0.01M228.71 394.3h0.01M242.74 386.48h0.01M215.28 408.71h0.01M230.85 386.39h0.01M209.24 417.22h0.01M215.73 407.7h0.01M221.08 398.96h0.01M227.6 403.33h0.01M239.87 384.95h0.01M208.06 422.68h0.01M246.76 386.32h0.01M234.7 395.76h0.01M234.82 398.93h0.01M201.31 407.22h0.01M258.43 372.33h0.01M304.28 356.83h0.01M327.57 345.95h0.01M290.14 357.96h0.01M318.53 342.1h0.01M302.83 348.98h0.01M264.76 366.02h0.01M296.14 368.24h0.01M283.24 356.47h0.01M330.53 342.14h0.01M333.15 334.66h0.01M315.08 355.63h0.01M330.47 353.84h0.01M290.78 362.27h0.01M308.67 364.91h0.01M304.93 329.6h0.01M257.44 386.41h0.01M270.67 373.52h0.01M295.34 361.87h0.01M271.35 368.63h0.01M296.48 360.11h0.01M270.54 375.19h0.01M306.68 337.11h0.01M318.55 349.63h0.01M259.84 383.41h0.01M323.31 343.99h0.01M259.35 365.52h0.01M301.94 357.86h0.01M334.36 337.33h0.01M323.04 341.45h0.01M305.04 352.98h0.01M275.6 364.21h0.01M268.42 362.93h0.01M266.61 380.46h0.01M289.09 364.19h0.01M326.24 334.23h0.01M269.28 382.52h0.01M309.29 347.29h0.01M285.55 369.63h0.01M285.77 366.49h0.01M280.51 348.67h0.01M277.19 365.99h0.01M296.59 354.95h0.01M275.28 375.1h0.01M289.7 367.97h0.01M308.7 345.12h0.01M250.98 376.73h0.01M288.19 367.93h0.01M306.47 350.79h0.01M287.47 372.87h0.01M267.33 366.55h0.01M321.46 349.49h0.01M299.75 369.05h0.01M253.33 375.77h0.01M308.54 348.62h0.01M325.98 341.77h0.01M299.85 349.9h0.01M286.27 358.75h0.01M307.56 372.29h0.01M327.86 327.09h0.01M300.97 348.48h0.01M250.2 375.11h0.01M306.1 357.96h0.01M264.92 370.81h0.01M281.88 365.07h0.01M259.97 370h0.01M311.67 349.69h0.01M311.16 351h0.01M293.91 373.62h0.01M329.88 338.83h0.01M274.77 359.98h0.01M258.3 379.04h0.01M294.23 365.86h0.01M262.8 382.4h0.01M273.65 370.19h0.01M285.48 368.25h0.01M283.9 356.75h0.01M326.88 351.74h0.01M265.6 381.96h0.01M278.63 355.81h0.01M330.42 336.08h0.01M263.65 379.2h0.01M311.79 355.29h0.01M252.78 386.14h0.01M326.62 330.15h0.01M250.71 379.72h0.01M275.35 380.81h0.01M272.1 359.48h0.01M328.78 347.88h0.01M293.43 365.57h0.01M273.59 368.9h0.01M276.71 360.31h0.01M276.01 360.91h0.01M252.92 382.41h0.01M290.71 353.97h0.01M269.4 377.02h0.01M272.97 364.37h0.01M311.96 348.74h0.01M283.3 365.38h0.01M301.6 362.41h0.01M297.83 353.4h0.01M298.34 352h0.01M286.06 351.15h0.01M254.84 384.67h0.01M272.09 372.18h0.01M319.48 339.35h0.01M313.35 367.98h0.01M318 342.41h0.01M319.72 347.17h0.01M252.98 381.15h0.01M295.69 342.96h0.01M309.35 368.7h0.01M312.39 348.77h0.01M306.54 343.15h0.01M333.86 337.39h0.01M309.49 339.25h0.01M277.61 359.97h0.01M255.67 373.78h0.01M259.2 387.85h0.01M304 351.26h0.01M254.91 372.55h0.01M297.87 361.9h0.01M278.38 353.47h0.01M261.45 381.54h0.01M247.53 377.64h0.01M308.91 359.84h0.01M302.44 345.89h0.01M256.95 378.1h0.01M299.14 358.88h0.01M259.83 370.38h0.01M289.94 354.09h0.01M317.38 339.52h0.01M291.84 366.78h0.01M308.27 352.96h0.01M308.29 346.9h0.01M255.1 382.98h0.01M304.97 344.63h0.01M302.15 371.08h0.01M285.14 358.41h0.01M315.29 352.92h0.01M326.47 351.76h0.01M294.48 352.99h0.01M266.83 384.43h0.01M322.56 353.81h0.01M267.91 374.9h0.01M336.3 319.2h0.01M336.3 319.7h0.01M336.3 320.2h0.01M336.3 320.7h0.01M336.3 321.2h0.01M336.3 321.7h0.01M336.3 322.2h0.01M336.3 322.7h0.01M336.3 323.2h0.01M336.3 323.7h0.01M336.3 324.2h0.01M336.3 324.7h0.01M336.3 325.2h0.01M336.3 325.7h0.01M336.3 326.2h0.01M336.3 326.7h0.01M336.3 327.2h0.01M336.3 327.7h0.01M336.3 328.2h0.01M336.3 328.7h0.01M336.3 329.2h0.01M336.3 329.7h0.01M336.3 330.2h0.01M336.3 330.7h0.01M336.3 331.2h0.01M336.3 331.7h0.01M336.3 332.2h0.01M336.3 332.7h0.01M336.3 333.2h0.01M336.3 333.7h0.01M336.3 334.2h0.01M336.3 334.7h0.01M336.3 335.2h0.01M336.3 335.7h0.01M336.3 336.2h0.01M336.3 336.7h0.01M336.3 337.2h0.01M336.3 337.7h0.01M336.3 338.2h0.01M336.3 338.7h0.01M336.3 339.2h0.01M336.3 339.7h0.01M336.3 340.2h0.01M336.3 340.7h0.01M336.3 341.2h0.01M336.3 341.7h0.01M336.3 342.2h0.01M336.3 342.7h0.01M336.3 343.2h0.01M336.3 343.7h0.01M336.3 344.2h0.01M336.3 344.7h0.01M336.3 352.26h0.01M336.3 348.44h0.01M336.3 353.47h0.01M336.3 352.04h0.01M336.3 354.52h0.01M336.3 354.71h0.01M336.3 352.88h0.01M336.3 350.34h0.01M334.66 338.53h0.01M330.04 341.73h0.01M333.09 328.09h0.01M329.74 322.47h0.01M331.76 327.83h0.01M330.05 327.82h0.01M328.92 333.15h0.01M329.91 328.56h0.01M329.94 333.71h0.01M334.12 325.68h0.01" stroke="#000" stroke-width="1.4" stroke-linecap="round" fill="none" />
<path d="M199.5 422.33 L201.81 420.21 L204.13 418.16 L206.44 416.17 L208.75 414.2 L211.07 412.27 L213.38 410.36 L215.69 408.47 L218.01 406.59 L220.32 404.72 L222.64 402.87 L224.95 401.03 L227.26 399.2 L229.58 397.38 L231.89 395.58 L234.2 393.8 L236.52 392.05 L238.83 390.32 L241.14 388.63 L243.46 386.97 L245.77 385.34 L248.08 383.75 L250.4 382.21 L252.71 380.71 L255.03 379.25 L257.34 377.84 L259.65 376.47 L261.97 375.14 L264.28 373.86 L266.59 372.63 L268.91 371.43 L271.22 370.26 L273.53 369.13 L275.85 368.03 L278.16 366.94 L280.47 365.88 L282.79 364.82 L285.1 363.77 L287.42 362.72 L289.73 361.66 L292.04 360.58 L294.36 359.49 L296.67 358.36 L298.98 357.2 L301.3 356 L303.61 354.76 L305.92 353.47 L308.24 352.12 L310.55 350.73 L312.86 349.28 L315.18 347.77 L317.49 346.22 L319.81 344.62 L322.12 342.98 L324.43 341.32 L326.75 339.64 L329.06 337.97 L331.37 336.32 L333.69 334.71 L336 333.17" stroke="#e8a04f" stroke-width="1.1" fill="none" stroke-linejoin="round"/>
</g>
<line x1="217.6" y1="430.6" x2="217.6" y2="432.2" stroke="#333" stroke-width="0.45"/>
<text x="217.6" y="435.9" font-size="4.15" text-anchor="middle" fill="#444" stroke="#444" stroke-width="0.1">0.25</text>
<line x1="257" y1="430.6" x2="257" y2="432.2" stroke="#333" stroke-width="0.45"/>
<text x="257" y="435.9" font-size="4.15" text-anchor="middle" fill="#444" stroke="#444" stroke-width="0.1">0.50</text>
<line x1="296.5" y1="430.6" x2="296.5" y2="432.2" stroke="#333" stroke-width="0.45"/>
<text x="296.5" y="435.9" font-size="4.15" text-anchor="middle" fill="#444" stroke="#444" stroke-width="0.1">0.75</text>
<line x1="335.9" y1="430.6" x2="335.9" y2="432.2" stroke="#333" stroke-width="0.45"/>
<text x="335.9" y="435.9" font-size="4.15" text-anchor="middle" fill="#444" stroke="#444" stroke-width="0.1">1.00</text>
<line x1="191.2" y1="412" x2="192.8" y2="412" stroke="#333" stroke-width="0.45"/>
<text x="190.5" y="413.45" font-size="4.15" text-anchor="end" fill="#444" stroke="#444" stroke-width="0.1">0.3</text>
<line x1="191.2" y1="376.8" x2="192.8" y2="376.8" stroke="#333" stroke-width="0.45"/>
<text x="190.5" y="378.25" font-size="4.15" text-anchor="end" fill="#444" stroke="#444" stroke-width="0.1">0.6</text>
<line x1="191.2" y1="341.5" x2="192.8" y2="341.5" stroke="#333" stroke-width="0.45"/>
<text x="190.5" y="342.95" font-size="4.15" text-anchor="end" fill="#444" stroke="#444" stroke-width="0.1">0.9</text>
<text x="270.5" y="310.7" font-size="6.8" text-anchor="middle" fill="#000">C2. Fitness of Duration</text>
<text x="267.1" y="442.6" font-size="5.45" text-anchor="middle" fill="#000" stroke="#000" stroke-width="0.1">Test.Duration</text>
<text x="181.4" y="372.5" font-size="5.35" text-anchor="middle" fill="#000" stroke="#000" stroke-width="0.1" transform="rotate(-90 181.4 372.5)">Predicted</text>
<text x="336.3" y="418.1" font-size="8.2" text-anchor="end" fill="#000">Cor=0.968</text>
<clipPath id="c3"><rect x="364" y="314.6" width="149.6" height="116"/></clipPath>
<rect x="364" y="314.6" width="149.6" height="116" fill="#ebebeb" stroke="none" stroke-width="0.5"/>
<g clip-path="url(#c3)"><line x1="375.4" y1="314.6" x2="375.4" y2="430.6" stroke="#fff" stroke-width="0.3"/><line x1="404.6" y1="314.6" x2="404.6" y2="430.6" stroke="#fff" stroke-width="0.3"/><line x1="433.7" y1="314.6" x2="433.7" y2="430.6" stroke="#fff" stroke-width="0.3"/><line x1="462.9" y1="314.6" x2="462.9" y2="430.6" stroke="#fff" stroke-width="0.3"/><line x1="492" y1="314.6" x2="492" y2="430.6" stroke="#fff" stroke-width="0.3"/><line x1="364" y1="415.9" x2="513.6" y2="415.9" stroke="#fff" stroke-width="0.3"/><line x1="364" y1="388.2" x2="513.6" y2="388.2" stroke="#fff" stroke-width="0.3"/><line x1="364" y1="360.4" x2="513.6" y2="360.4" stroke="#fff" stroke-width="0.3"/><line x1="364" y1="332.7" x2="513.6" y2="332.7" stroke="#fff" stroke-width="0.3"/><line x1="390" y1="314.6" x2="390" y2="430.6" stroke="#fff" stroke-width="0.6"/><line x1="419.1" y1="314.6" x2="419.1" y2="430.6" stroke="#fff" stroke-width="0.6"/><line x1="448.3" y1="314.6" x2="448.3" y2="430.6" stroke="#fff" stroke-width="0.6"/><line x1="477.5" y1="314.6" x2="477.5" y2="430.6" stroke="#fff" stroke-width="0.6"/><line x1="506.6" y1="314.6" x2="506.6" y2="430.6" stroke="#fff" stroke-width="0.6"/><line x1="364" y1="429.8" x2="513.6" y2="429.8" stroke="#fff" stroke-width="0.6"/><line x1="364" y1="402.05" x2="513.6" y2="402.05" stroke="#fff" stroke-width="0.6"/><line x1="364" y1="374.3" x2="513.6" y2="374.3" stroke="#fff" stroke-width="0.6"/><line x1="364" y1="346.55" x2="513.6" y2="346.55" stroke="#fff" stroke-width="0.6"/><line x1="364" y1="318.8" x2="513.6" y2="318.8" stroke="#fff" stroke-width="0.6"/>
<path d="M436 358.6 L445 350.8 L455 344.6 L467 338.2 L480 335.2 L490 334 L500 333.7 L507 333.7 L507 346.8 L500 344.5 L490 343 L480 343 L467 343.8 L455 347 L445 352.2 L436 359.4Z" fill="#999" fill-opacity="0.4"/>
<path d="M373.3 425.69h0.01M372.05 422.89h0.01M372.67 422.81h0.01M372.3 426.27h0.01M372.88 420.34h0.01M369.27 426.43h0.01M370.81 425.09h0.01M370.17 422.08h0.01M370.85 424.56h0.01M373.72 422.55h0.01M371.83 421.14h0.01M370.16 426.55h0.01M369.55 426.46h0.01M372.29 418.65h0.01M373.51 418.92h0.01M371.83 419.08h0.01M373.94 420.78h0.01M373.36 418.55h0.01M372.33 418.61h0.01M369.15 423.14h0.01M373.91 424.17h0.01M373.28 425.06h0.01M371.61 418.69h0.01M371.63 419.66h0.01M371.63 421.19h0.01M407.93 388.38h0.01M399.54 391.58h0.01M398.41 380.6h0.01M412.53 384.1h0.01M393.13 396.45h0.01M448.02 364.67h0.01M432.6 362.98h0.01M402.05 383.98h0.01M409.06 373.21h0.01M372.25 410.49h0.01M376.09 422.17h0.01M439.85 357.44h0.01M428.37 362.25h0.01M412.44 381.37h0.01M373.91 424.42h0.01M442.08 357.52h0.01M394.58 398.03h0.01M425.35 367.32h0.01M406.03 382.72h0.01M403.86 390.63h0.01M384.46 410.17h0.01M405.54 388.92h0.01M386.94 403.65h0.01M407.92 385h0.01M384.31 408.77h0.01M393.87 398.11h0.01M425.82 364.98h0.01M425.29 368.21h0.01M403 395.51h0.01M402.88 403.64h0.01M401.52 397.89h0.01M423.49 363.45h0.01M397.14 394.48h0.01M417.18 363.63h0.01M370.22 418.86h0.01M376.54 417.89h0.01M389.72 411.1h0.01M432.75 352.51h0.01M379.96 410.49h0.01M386.88 410.14h0.01M432.4 359.32h0.01M402.24 389.15h0.01M391.2 403.29h0.01M383.72 408.15h0.01M393.29 400.71h0.01M404.61 381.25h0.01M417.38 359.29h0.01M376.92 415.95h0.01M393.33 400.4h0.01M408.19 387.95h0.01M409.9 380.37h0.01M435.37 349.75h0.01M428.9 360.53h0.01M438.8 358.06h0.01M424.29 367.18h0.01M384.2 411.74h0.01M387.61 408.16h0.01M422.92 360.37h0.01M404.22 389.55h0.01M394.38 402.26h0.01M412.54 375.97h0.01M414.1 376.87h0.01M430.59 357.04h0.01M406.68 381.34h0.01M436.71 359.91h0.01M433.07 364.32h0.01M409.58 388.55h0.01M382.87 409.29h0.01M416.46 385.05h0.01M394.07 404.81h0.01M392.94 394.66h0.01M433.14 354.27h0.01M369.71 420.08h0.01M409.51 379.15h0.01M375.15 412.94h0.01M419.04 379.54h0.01M406.68 395.22h0.01M389.54 406.97h0.01M391.27 405.98h0.01M395.11 385.81h0.01M403.39 385.27h0.01M427.6 359.74h0.01M385.87 408.6h0.01M435.4 374.1h0.01M421.17 375.49h0.01M429.14 366.03h0.01M428.02 364.01h0.01M440.37 363.53h0.01M396.23 398.73h0.01M440.18 364.52h0.01M375.12 416.56h0.01M442.86 357.49h0.01M382.92 407.21h0.01M439.61 353.11h0.01M429.18 377.06h0.01M427.03 369.48h0.01M415.41 386.02h0.01M403.88 385.5h0.01M374.34 421.69h0.01M384.98 403.14h0.01M417.33 370.47h0.01M391.65 403.79h0.01M422.51 376.63h0.01M439.26 361.08h0.01M432.01 348.62h0.01M424.64 365.94h0.01M407.29 384.42h0.01M428.43 357.63h0.01M423.87 369.5h0.01M412.38 381.21h0.01M377.68 418.34h0.01M412.52 388.78h0.01M398.79 391.22h0.01M406.04 390.14h0.01M399.93 389.74h0.01M406 378.21h0.01M435.05 359.5h0.01M439.51 351.21h0.01M427.13 369.96h0.01M409.48 382.37h0.01M420.08 368.46h0.01M416.03 375.5h0.01M404.13 394.09h0.01M439.7 357.61h0.01M375.68 416.19h0.01M404.07 393.3h0.01M411.59 381.46h0.01M415.29 374.45h0.01M374.05 418.06h0.01M374.54 417.37h0.01M374.49 414.74h0.01M382.22 417.92h0.01M403.44 385.7h0.01M443.06 357.52h0.01M388.5 407.71h0.01M395.65 388.6h0.01M390.19 404.42h0.01M400.87 388.51h0.01M401.62 388.61h0.01M398.67 391.56h0.01M397.69 384.32h0.01M399.07 385.79h0.01M441.13 356.21h0.01M418.5 374.73h0.01M427.26 375.64h0.01M414.19 370.59h0.01M387.41 405.93h0.01M437.51 351.29h0.01M369.53 417.75h0.01M388.21 402h0.01M401.02 395.79h0.01M440.03 364.09h0.01M431.06 366.56h0.01M411.7 379.14h0.01M421.63 367.1h0.01M417.05 368.68h0.01M445.17 359.6h0.01M393.19 398.07h0.01M387.92 399.55h0.01M408.22 389.2h0.01M432.93 358.36h0.01M426.59 363.61h0.01M410.36 375.54h0.01M433.31 344.54h0.01M396.09 397.22h0.01M391.04 399.22h0.01M427.85 361.84h0.01M395.9 396.2h0.01M396.79 394.82h0.01M396.94 404.05h0.01M389.22 404.47h0.01M377.96 416.41h0.01M386.27 399.21h0.01M374.52 421.13h0.01M384.99 405.63h0.01M396.16 399.52h0.01M403.46 387.52h0.01M424.52 360.33h0.01M441.5 355.13h0.01M419.7 383.3h0.01M392.82 395.32h0.01M434.14 369.18h0.01M381.08 407.46h0.01M389.76 409.64h0.01M385.99 404.46h0.01M427.17 376.32h0.01M376.74 418.45h0.01M413.16 381.67h0.01M399.48 400.63h0.01M433.7 363.71h0.01M372.11 419.75h0.01M388.6 400.53h0.01M391.95 397.06h0.01M409.12 380.57h0.01M388.21 403.51h0.01M371.26 419.55h0.01M393.43 406.31h0.01M401.89 386.61h0.01M434.11 360.63h0.01M416.49 374.31h0.01M397.89 390.49h0.01M400.87 385.64h0.01M428.82 368.67h0.01M372.43 419.88h0.01M425.57 363.82h0.01M387.44 410.89h0.01M417.61 372.05h0.01M400.47 387.22h0.01M441.28 369.82h0.01M432.6 366.3h0.01M435.83 350.53h0.01M394.85 401.98h0.01M451.42 366.74h0.01M373.02 421.72h0.01M419.51 380.29h0.01M432.26 350.76h0.01M411.39 378.6h0.01M407.33 392.87h0.01M383.7 403.58h0.01M391.88 394.94h0.01M372.76 420.83h0.01M389.67 409.8h0.01M397.7 401.63h0.01M377.19 413.41h0.01M427.91 363.92h0.01M378.38 420.85h0.01M381.13 411.85h0.01M377.25 404.83h0.01M393.55 398.95h0.01M382.08 406.6h0.01M441.72 362.88h0.01M399.07 395.98h0.01M423.37 373.25h0.01M439.93 355.92h0.01M435.56 357.95h0.01M384.39 408.57h0.01M428.05 359.76h0.01M416.35 372.71h0.01M420.72 370.4h0.01M403.24 384.88h0.01M379.73 423.41h0.01M396.66 395.15h0.01M414.72 381.97h0.01M401.46 382.04h0.01M411.26 382.26h0.01M428.63 376.83h0.01M374.14 419.99h0.01M426.8 358.41h0.01M424.85 368.06h0.01M430.8 365.68h0.01M377.4 422.67h0.01M398.74 395.91h0.01M424.98 355.98h0.01M374.81 420.1h0.01M385.69 409.21h0.01M417.41 377.97h0.01M407.79 383.05h0.01M408.38 378.84h0.01M408.44 392.54h0.01M384.57 407.77h0.01M431.05 357.02h0.01M410.99 385.2h0.01M397.57 394.36h0.01M422.02 373.14h0.01M390.17 400.55h0.01M424.35 364.15h0.01M380.8 405.15h0.01M432.24 375.91h0.01M425.81 371.92h0.01M420.33 385.98h0.01M420.58 390.27h0.01M425.77 357.9h0.01M379.01 409.24h0.01M380.49 412.46h0.01M415.13 377.25h0.01M415.29 380.53h0.01M434.54 365.4h0.01M396.38 395.68h0.01M432.67 364.42h0.01M395.21 398.15h0.01M370.47 420.79h0.01M440.53 353.32h0.01M422.28 372.07h0.01M427.39 375.95h0.01M399.77 391.29h0.01M393.07 399.64h0.01M423.01 377.27h0.01M441.07 357.54h0.01M384.68 412.32h0.01M383.66 408.32h0.01M419.99 375.8h0.01M380.12 416.81h0.01M427.82 362.38h0.01M430.62 361.05h0.01M418.8 379.25h0.01M373.47 419.84h0.01M411.61 387.25h0.01M428.56 363.27h0.01M417.76 373.95h0.01M405.21 377.53h0.01M421.7 377.21h0.01M423.52 364.61h0.01M370.38 419.45h0.01M410.05 375.83h0.01M376.93 419.19h0.01M425.16 380.13h0.01M388.93 398.42h0.01M422.18 358.83h0.01M402.76 385.38h0.01M397.16 397.64h0.01M402.86 397.48h0.01M382.99 412.31h0.01M414.03 379.9h0.01M388.64 397.39h0.01M390.86 411.12h0.01M406.32 389.15h0.01M434.21 360.27h0.01M419.72 375.45h0.01M420.78 386.51h0.01M397.41 401.13h0.01M381.57 416.76h0.01M408.4 393.09h0.01M388.6 409.87h0.01M402.42 386.96h0.01M385.25 406.3h0.01M441.12 363.86h0.01M392.9 398.38h0.01M431.23 370.53h0.01M376.09 406.81h0.01M432.44 361.89h0.01M395.47 401.57h0.01M423.13 366.41h0.01M419.91 372.62h0.01M380.41 414.29h0.01M424.82 358.66h0.01M395.8 395.23h0.01M438.73 353.54h0.01M417 368.99h0.01M420.49 361.78h0.01M435.57 350.41h0.01M395.49 393.52h0.01M415.19 374.68h0.01M432.7 364.79h0.01M427.21 358.93h0.01M388.42 403.4h0.01M430.17 368.81h0.01M398.92 396.48h0.01M417.34 378.21h0.01M389.17 403.72h0.01M430.94 358.34h0.01M384.72 406.74h0.01M390.68 401.99h0.01M417.26 378.04h0.01M385.25 408.7h0.01M426.78 365.82h0.01M401.21 388.16h0.01M371.96 417.61h0.01M434.92 349.24h0.01M431.03 359.82h0.01M431.95 369.51h0.01M379.6 416.44h0.01M384.88 413.38h0.01M440.34 366.49h0.01M411.45 371h0.01M420.68 377.26h0.01M396.15 388.66h0.01M414.5 368.48h0.01M431.17 366.12h0.01M376.88 420.78h0.01M390.52 397.35h0.01M410.12 381.18h0.01M397.02 401.21h0.01M370.33 420.77h0.01M436.26 363.55h0.01M421.52 363.13h0.01M398.54 391.16h0.01M403.64 389.34h0.01M379.43 414.93h0.01M408.63 384.23h0.01M442.88 356.79h0.01M384.98 413.08h0.01M383.8 409.18h0.01M438 358.07h0.01M383.23 410.55h0.01M433.84 356.95h0.01M396.23 397.38h0.01M422.73 371.93h0.01M400.82 387.26h0.01M401.58 388.28h0.01M392.94 397.57h0.01M372.87 417.05h0.01M375.01 420.99h0.01M438.35 357.77h0.01M392.09 398.02h0.01M377.42 408.56h0.01M398.65 395.71h0.01M372.2 420.65h0.01M422.77 371.4h0.01M382.9 406.76h0.01M422.05 368.89h0.01M391.78 392.44h0.01M391.47 405.19h0.01M420.65 386.95h0.01M384.6 410.96h0.01M430.18 367.93h0.01M404.6 393.19h0.01M389.08 410.71h0.01M409.53 388.36h0.01M386.89 395.88h0.01M413.75 380.6h0.01M388.19 403.96h0.01M387.84 406.13h0.01M397.69 390.39h0.01M410.98 381.98h0.01M416.96 372.67h0.01M397.71 395.32h0.01M391.71 400.49h0.01M372.73 419.14h0.01M430.99 358.22h0.01M409.71 386.28h0.01M452.1 322.2h0.01M445.4 330.8h0.01M479.9 329.3h0.01M497.5 320h0.01M459.5 333.4h0.01M463.1 333.4h0.01M475.4 337.5h0.01M435.2 339h0.01M437.5 337.5h0.01M445.7 339.8h0.01M451.3 342h0.01M456.1 342h0.01M439.7 345.7h0.01M446.8 346h0.01M507 339h0.01M503 346.8h0.01M476.9 349.7h0.01M454.1 353h0.01M481 353h0.01M472.6 356.4h0.01M447.9 358.4h0.01M461.3 361.6h0.01M451.3 363.1h0.01M441.9 368.8h0.01M444.9 365.4h0.01" stroke="#000" stroke-width="1.4" stroke-linecap="round" fill="none" />
<path d="M370.3 422.42 L372.62 419.88 L374.93 417.47 L377.25 415.14 L379.57 412.88 L381.88 410.66 L384.2 408.46 L386.52 406.27 L388.84 404.09 L391.15 401.89 L393.47 399.68 L395.79 397.45 L398.1 395.19 L400.42 392.92 L402.74 390.62 L405.05 388.31 L407.37 385.99 L409.69 383.65 L412.01 381.31 L414.32 378.98 L416.64 376.65 L418.96 374.35 L421.27 372.06 L423.59 369.81 L425.91 367.6 L428.22 365.43 L430.54 363.32 L432.86 361.27 L435.17 359.28 L437.49 357.37 L439.81 355.53 L442.13 353.77 L444.44 352.11 L446.76 350.53 L449.08 349.04 L451.39 347.65 L453.71 346.35 L456.03 345.15 L458.34 344.05 L460.66 343.05 L462.98 342.14 L465.29 341.32 L467.61 340.6 L469.93 339.97 L472.25 339.42 L474.56 338.96 L476.88 338.59 L479.2 338.29 L481.51 338.06 L483.83 337.91 L486.15 337.83 L488.46 337.82 L490.78 337.87 L493.1 338 L495.42 338.19 L497.73 338.45 L500.05 338.78 L502.37 339.2 L504.68 339.7 L507 340.29" stroke="#e8a04f" stroke-width="1.1" fill="none" stroke-linejoin="round"/>
</g>
<line x1="390" y1="430.6" x2="390" y2="432.2" stroke="#333" stroke-width="0.45"/>
<text x="390" y="435.9" font-size="4.15" text-anchor="middle" fill="#444" stroke="#444" stroke-width="0.1">0.1</text>
<line x1="419.1" y1="430.6" x2="419.1" y2="432.2" stroke="#333" stroke-width="0.45"/>
<text x="419.1" y="435.9" font-size="4.15" text-anchor="middle" fill="#444" stroke="#444" stroke-width="0.1">0.2</text>
<line x1="448.3" y1="430.6" x2="448.3" y2="432.2" stroke="#333" stroke-width="0.45"/>
<text x="448.3" y="435.9" font-size="4.15" text-anchor="middle" fill="#444" stroke="#444" stroke-width="0.1">0.3</text>
<line x1="477.5" y1="430.6" x2="477.5" y2="432.2" stroke="#333" stroke-width="0.45"/>
<text x="477.5" y="435.9" font-size="4.15" text-anchor="middle" fill="#444" stroke="#444" stroke-width="0.1">0.4</text>
<line x1="506.6" y1="430.6" x2="506.6" y2="432.2" stroke="#333" stroke-width="0.45"/>
<text x="506.6" y="435.9" font-size="4.15" text-anchor="middle" fill="#444" stroke="#444" stroke-width="0.1">0.5</text>
<line x1="362.4" y1="429.8" x2="364" y2="429.8" stroke="#333" stroke-width="0.45"/>
<text x="361.7" y="431.25" font-size="4.15" text-anchor="end" fill="#444" stroke="#444" stroke-width="0.1">0.0</text>
<line x1="362.4" y1="402.05" x2="364" y2="402.05" stroke="#333" stroke-width="0.45"/>
<text x="361.7" y="403.5" font-size="4.15" text-anchor="end" fill="#444" stroke="#444" stroke-width="0.1">0.1</text>
<line x1="362.4" y1="374.3" x2="364" y2="374.3" stroke="#333" stroke-width="0.45"/>
<text x="361.7" y="375.75" font-size="4.15" text-anchor="end" fill="#444" stroke="#444" stroke-width="0.1">0.2</text>
<line x1="362.4" y1="346.55" x2="364" y2="346.55" stroke="#333" stroke-width="0.45"/>
<text x="361.7" y="348" font-size="4.15" text-anchor="end" fill="#444" stroke="#444" stroke-width="0.1">0.3</text>
<line x1="362.4" y1="318.8" x2="364" y2="318.8" stroke="#333" stroke-width="0.45"/>
<text x="361.7" y="320.25" font-size="4.15" text-anchor="end" fill="#444" stroke="#444" stroke-width="0.1">0.4</text>
<text x="440.2" y="310.7" font-size="6.8" text-anchor="middle" fill="#000">C3. Fitness of Alliance</text>
<text x="434.2" y="442.6" font-size="5.45" text-anchor="middle" fill="#000" stroke="#000" stroke-width="0.1">Test.Alliance</text>
<text x="352.3" y="372.5" font-size="5.35" text-anchor="middle" fill="#000" stroke="#000" stroke-width="0.1" transform="rotate(-90 352.3 372.5)">Predicted</text>
<text x="513" y="418.1" font-size="8.2" text-anchor="end" fill="#000">Cor=0.945</text>
<clipPath id="c4"><rect x="534.5" y="314.6" width="151" height="116"/></clipPath>
<rect x="534.5" y="314.6" width="151" height="116" fill="#ebebeb" stroke="none" stroke-width="0.5"/>
<g clip-path="url(#c4)"><line x1="556.7" y1="314.6" x2="556.7" y2="430.6" stroke="#fff" stroke-width="0.3"/><line x1="606.2" y1="314.6" x2="606.2" y2="430.6" stroke="#fff" stroke-width="0.3"/><line x1="655.8" y1="314.6" x2="655.8" y2="430.6" stroke="#fff" stroke-width="0.3"/><line x1="534.5" y1="428.4" x2="685.5" y2="428.4" stroke="#fff" stroke-width="0.3"/><line x1="534.5" y1="400.8" x2="685.5" y2="400.8" stroke="#fff" stroke-width="0.3"/><line x1="534.5" y1="373.2" x2="685.5" y2="373.2" stroke="#fff" stroke-width="0.3"/><line x1="534.5" y1="345.7" x2="685.5" y2="345.7" stroke="#fff" stroke-width="0.3"/><line x1="534.5" y1="318.1" x2="685.5" y2="318.1" stroke="#fff" stroke-width="0.3"/><line x1="581.5" y1="314.6" x2="581.5" y2="430.6" stroke="#fff" stroke-width="0.6"/><line x1="631" y1="314.6" x2="631" y2="430.6" stroke="#fff" stroke-width="0.6"/><line x1="680.5" y1="314.6" x2="680.5" y2="430.6" stroke="#fff" stroke-width="0.6"/><line x1="534.5" y1="414.6" x2="685.5" y2="414.6" stroke="#fff" stroke-width="0.6"/><line x1="534.5" y1="387" x2="685.5" y2="387" stroke="#fff" stroke-width="0.6"/><line x1="534.5" y1="359.5" x2="685.5" y2="359.5" stroke="#fff" stroke-width="0.6"/><line x1="534.5" y1="331.9" x2="685.5" y2="331.9" stroke="#fff" stroke-width="0.6"/>
<path d="M630 339.2 L645 332 L660 328.5 L670 326.5 L678.1 324.6 L678.1 345.3 L670 340 L660 336 L645 335 L630 340.5Z" fill="#999" fill-opacity="0.4"/>
<path d="M548.85 420.45h0.01M545.93 418.75h0.01M548.51 420.03h0.01M548.92 422.69h0.01M549.94 421.81h0.01M547.74 419.69h0.01M546.33 420.63h0.01M546.25 422.55h0.01M549.58 416.42h0.01M548.52 420.93h0.01M546.98 423.27h0.01M541.5 419.8h0.01M544.75 423.59h0.01M542.65 420.5h0.01M542.44 422.03h0.01M545.89 421.88h0.01M544.07 423.07h0.01M541.07 417.8h0.01M548.33 423.03h0.01M548.77 418.2h0.01M541.81 421.67h0.01M548.31 416.48h0.01M550.35 420.22h0.01M541.34 419.84h0.01M544.38 416.83h0.01M549.85 423.48h0.01M542.24 419.57h0.01M543.73 421.38h0.01M554.54 409h0.01M558.74 411.51h0.01M559.09 413.73h0.01M566.16 419.77h0.01M565.7 417.92h0.01M556.2 407.4h0.01M559.44 414.58h0.01M561.49 409.29h0.01M566.88 408.62h0.01M553.27 404.63h0.01M555.93 416.16h0.01M564.77 403.75h0.01M556.32 407.36h0.01M564.01 419.16h0.01M556.69 404.84h0.01M566.54 420.49h0.01M574.77 382.19h0.01M578.72 384.14h0.01M575.32 389.98h0.01M584.88 395.01h0.01M572.36 399h0.01M591.22 389.22h0.01M585.14 387.23h0.01M567.62 399.7h0.01M584.15 386.69h0.01M573.29 380.29h0.01M580.71 377.57h0.01M578.45 387.73h0.01M586.13 396.23h0.01M582.04 389.02h0.01M589.35 369.05h0.01M609.89 358.52h0.01M602.98 364.93h0.01M590.46 368.64h0.01M625.82 342.77h0.01M620.39 340.06h0.01M610.78 353.55h0.01M587.63 379.44h0.01M619.81 356.6h0.01M615.27 358.75h0.01M624.78 350.75h0.01M582.02 379.16h0.01M621.74 342.2h0.01M587.51 385.33h0.01M625.26 334.27h0.01M623.43 352.05h0.01M625.03 343.22h0.01M593.38 362.05h0.01M601.99 364.18h0.01M588.22 377.67h0.01M587.69 374.73h0.01M616.83 341.61h0.01M591.42 371.89h0.01M583.35 380.47h0.01M594 365.74h0.01M595.76 369.72h0.01M599.4 365.68h0.01M618.3 347.07h0.01M623.94 344.68h0.01M590.78 377.15h0.01M629.75 341.01h0.01M607.35 354.2h0.01M595.02 380.86h0.01M600.41 373.95h0.01M586.87 378.84h0.01M593.32 371.69h0.01M595.63 364.76h0.01M633.91 347.48h0.01M597.05 372.13h0.01M612.52 358.18h0.01M630.76 346.07h0.01M614.53 365.2h0.01M592.47 385.05h0.01M606.6 359.8h0.01M620.42 355.51h0.01M626.01 341.86h0.01M616.56 349.72h0.01M616.71 345.33h0.01M608.23 358.82h0.01M622.08 340.24h0.01M601.57 366.27h0.01M628.43 341.49h0.01M613.33 358.34h0.01M583.62 377.58h0.01M627.48 340.77h0.01M595.44 373.46h0.01M604.47 357.84h0.01M625.85 338.93h0.01M609.6 359.64h0.01M613.17 356.35h0.01M617.15 352.02h0.01M622.18 345.54h0.01M599.4 383.13h0.01M625.64 341.58h0.01M602.62 367.18h0.01M605.03 376h0.01M603.6 369.53h0.01M589.89 369.69h0.01M617.97 356.82h0.01M581.78 375.19h0.01M597.93 372.13h0.01M602.77 365.13h0.01M604.89 352.83h0.01M626.98 340.95h0.01M591.22 371.39h0.01M614.15 362.46h0.01M605.33 365.66h0.01M630.58 346.77h0.01M604.53 367.26h0.01M619.78 352.53h0.01M586.18 384.1h0.01M618.56 343.67h0.01M589 376.87h0.01M586.97 373.2h0.01M621.77 348h0.01M601.12 371.45h0.01M589.73 385.33h0.01M614.99 338.67h0.01M625.08 349.06h0.01M594.07 372.61h0.01M609.84 339.03h0.01M591.86 363.86h0.01M628.82 341.58h0.01M626.02 342.03h0.01M584.14 376.79h0.01M610.35 362.81h0.01M586.6 378.98h0.01M606 366.29h0.01M620.39 341.36h0.01M588.55 381.79h0.01M605.58 366.7h0.01M588.83 381.36h0.01M608.11 367.79h0.01M615.26 358.41h0.01M591.12 374.84h0.01M608.48 353.81h0.01M588.28 382.17h0.01M626.63 350.17h0.01M600.83 375.19h0.01M605.43 366.44h0.01M595.03 374.54h0.01M622.49 348.31h0.01M583.43 380.45h0.01M617.32 360.07h0.01M595.4 368.13h0.01M618.84 348.56h0.01M617.89 354.91h0.01M626.22 339h0.01M613.51 353.31h0.01M584.85 379.62h0.01M589.82 378.96h0.01M618.52 348.65h0.01M629.58 345.74h0.01M624.46 333.49h0.01M610.47 352.44h0.01M599.83 363.36h0.01M617.36 357.64h0.01M598.32 375.87h0.01M606.88 365.69h0.01M605.04 356.24h0.01M611.6 348.57h0.01M598.22 374.8h0.01M627.18 346.95h0.01M607.26 353.47h0.01M593.37 375.33h0.01M594.85 372.28h0.01M597.32 377.77h0.01M589.87 372.54h0.01M608.59 350.35h0.01M593.26 364.66h0.01M594.22 372.81h0.01M626.51 337.32h0.01M618.8 347.75h0.01M603.95 362.82h0.01M602.55 383.53h0.01M611.85 365.29h0.01M602.83 365.97h0.01M610.71 355.49h0.01M615.21 342.8h0.01M609.4 353.03h0.01M613.68 351.67h0.01M614.37 351.66h0.01M627.15 338.81h0.01M606.78 358.62h0.01M627.01 346.55h0.01M581.24 364.41h0.01M589.23 379.41h0.01M631.28 344.62h0.01M611.78 352.4h0.01M594.85 360.34h0.01M586.42 374.43h0.01M611.04 359.29h0.01M603.95 372.43h0.01M590.7 364.39h0.01M584.74 378.91h0.01M599.29 371.14h0.01M600.77 359.09h0.01M594.37 368h0.01M621.56 348.17h0.01M626.8 337.55h0.01M595.62 370.62h0.01M615.52 352.03h0.01M599.39 373.36h0.01M599.53 361.09h0.01M602.22 350.64h0.01M626.64 357.94h0.01M591.62 388.3h0.01M599.47 372.44h0.01M607.65 360.98h0.01M593.56 376.68h0.01M590.28 360.03h0.01M616.87 356.59h0.01M624.97 341.93h0.01M600.19 364.35h0.01M624.66 340.25h0.01M608.01 361.68h0.01M613.5 358.65h0.01M588.27 369.6h0.01M593.54 371.08h0.01M621.76 352.3h0.01M626.97 335.88h0.01M597.19 379.07h0.01M591.02 379.85h0.01M610.26 359.42h0.01M617.76 346.79h0.01M620.18 357.13h0.01M600.08 357.69h0.01M623.21 346.37h0.01M621.48 349.38h0.01M609.52 361.8h0.01M601.16 373.31h0.01M624.7 350.36h0.01M616.25 345.13h0.01M586.44 373.53h0.01M614.3 350.43h0.01M596.67 362.16h0.01M581.27 379.15h0.01M591.33 376.18h0.01M603.21 364.67h0.01M602.99 361.98h0.01M618.79 346.34h0.01M607.09 360.69h0.01M623.14 335.71h0.01M590.85 374.92h0.01M595.5 373.48h0.01M628.55 346.76h0.01M585.07 382.26h0.01M587.18 381.34h0.01M596.53 373.43h0.01M589.46 366.54h0.01M610.08 353.74h0.01M589.63 381.67h0.01M607.26 351.59h0.01M608.32 355.48h0.01M617.02 338.15h0.01M631.39 343.96h0.01M613.69 349.62h0.01M588.25 377.24h0.01M608.25 351.11h0.01M604.5 363.67h0.01M618.54 353.9h0.01M595.72 365.39h0.01M613.67 354.78h0.01M620.22 345.26h0.01M600.7 358.01h0.01M600.81 370.27h0.01M606.97 354.73h0.01M584.79 382.19h0.01M631.56 347.2h0.01M629.29 341.94h0.01M586.8 383.34h0.01M603.12 373.9h0.01M622.98 347.42h0.01M610.35 362.93h0.01M608.42 361.72h0.01M616.6 354.68h0.01M583.7 376.82h0.01M610.28 344.1h0.01M611.4 344.38h0.01M591.97 373.85h0.01M616.76 360.88h0.01M590.67 384.6h0.01M594.62 374.07h0.01M621.34 342.48h0.01M603.19 358.61h0.01M612.63 358.38h0.01M594.41 381.72h0.01M612.35 343.99h0.01M610.9 354.14h0.01M622.21 339.48h0.01M600.89 376.63h0.01M592.8 374.77h0.01M600.21 363.2h0.01M603.04 368.24h0.01M590.1 379.83h0.01M608.99 342.87h0.01M623.04 342.33h0.01M628.83 346.54h0.01M614.54 359.21h0.01M599.46 367.7h0.01M622.03 352.27h0.01M609.35 363.66h0.01M590.4 375.23h0.01M605.7 348.11h0.01M604.82 362.22h0.01M627.01 339.82h0.01M605.33 355h0.01M585.99 377.11h0.01M605.52 358.77h0.01M591.17 380.95h0.01M599.83 370.22h0.01M594.22 381.91h0.01M619.9 349.78h0.01M619.37 351.91h0.01M605.4 359.08h0.01M604.65 356.89h0.01M587.7 383.44h0.01M624.64 349.24h0.01M610.01 359.41h0.01M639.93 358.64h0.01M609.02 357.96h0.01M608.7 363.66h0.01M604.53 362.45h0.01M602.59 373.78h0.01M605.27 359.98h0.01M607.61 358.65h0.01M585.95 384.08h0.01M630.55 345.03h0.01M623.09 336.69h0.01M585.42 374.32h0.01M627.7 323.8h0.01M633.4 322.2h0.01M635.7 320.4h0.01M636.4 319.6h0.01M639.7 320.4h0.01M644.3 322.6h0.01M646.5 324.4h0.01M652.9 328.3h0.01M651.4 334.1h0.01M632 339h0.01M633 342h0.01M639.5 343.3h0.01M641.8 347.1h0.01M658.9 346h0.01M677.8 334.5h0.01M628.5 355.7h0.01" stroke="#000" stroke-width="1.4" stroke-linecap="round" fill="none" />
<path d="M541 422.51 L543.32 421.26 L545.63 419.85 L547.95 418.3 L550.27 416.63 L552.58 414.86 L554.9 412.98 L557.22 411.02 L559.54 408.98 L561.85 406.87 L564.17 404.71 L566.49 402.49 L568.8 400.22 L571.12 397.91 L573.44 395.56 L575.75 393.18 L578.07 390.78 L580.39 388.35 L582.71 385.91 L585.02 383.45 L587.34 380.99 L589.66 378.52 L591.97 376.05 L594.29 373.58 L596.61 371.13 L598.92 368.69 L601.24 366.27 L603.56 363.88 L605.87 361.53 L608.19 359.21 L610.51 356.94 L612.83 354.72 L615.14 352.56 L617.46 350.46 L619.78 348.44 L622.09 346.5 L624.41 344.64 L626.73 342.89 L629.04 341.23 L631.36 339.68 L633.68 338.25 L635.99 336.93 L638.31 335.74 L640.63 334.69 L642.95 333.77 L645.26 332.98 L647.58 332.34 L649.9 331.84 L652.21 331.48 L654.53 331.27 L656.85 331.19 L659.16 331.24 L661.48 331.42 L663.8 331.72 L666.12 332.12 L668.43 332.62 L670.75 333.2 L673.07 333.83 L675.38 334.5 L677.7 335.19" stroke="#e8a04f" stroke-width="1.1" fill="none" stroke-linejoin="round"/>
</g>
<line x1="581.5" y1="430.6" x2="581.5" y2="432.2" stroke="#333" stroke-width="0.45"/>
<text x="581.5" y="435.9" font-size="4.15" text-anchor="middle" fill="#444" stroke="#444" stroke-width="0.1">0.2</text>
<line x1="631" y1="430.6" x2="631" y2="432.2" stroke="#333" stroke-width="0.45"/>
<text x="631" y="435.9" font-size="4.15" text-anchor="middle" fill="#444" stroke="#444" stroke-width="0.1">0.4</text>
<line x1="680.5" y1="430.6" x2="680.5" y2="432.2" stroke="#333" stroke-width="0.45"/>
<text x="680.5" y="435.9" font-size="4.15" text-anchor="middle" fill="#444" stroke="#444" stroke-width="0.1">0.6</text>
<line x1="532.9" y1="414.6" x2="534.5" y2="414.6" stroke="#333" stroke-width="0.45"/>
<text x="532.2" y="416.05" font-size="4.15" text-anchor="end" fill="#444" stroke="#444" stroke-width="0.1">0.1</text>
<line x1="532.9" y1="387" x2="534.5" y2="387" stroke="#333" stroke-width="0.45"/>
<text x="532.2" y="388.45" font-size="4.15" text-anchor="end" fill="#444" stroke="#444" stroke-width="0.1">0.2</text>
<line x1="532.9" y1="359.5" x2="534.5" y2="359.5" stroke="#333" stroke-width="0.45"/>
<text x="532.2" y="360.95" font-size="4.15" text-anchor="end" fill="#444" stroke="#444" stroke-width="0.1">0.3</text>
<line x1="532.9" y1="331.9" x2="534.5" y2="331.9" stroke="#333" stroke-width="0.45"/>
<text x="532.2" y="333.35" font-size="4.15" text-anchor="end" fill="#444" stroke="#444" stroke-width="0.1">0.4</text>
<text x="605.7" y="310.7" font-size="6.8" text-anchor="middle" fill="#000">C4.Fitness of War</text>
<text x="604.9" y="442.6" font-size="5.45" text-anchor="middle" fill="#000" stroke="#000" stroke-width="0.1">Test.War</text>
<text x="523.4" y="372.5" font-size="5.35" text-anchor="middle" fill="#000" stroke="#000" stroke-width="0.1" transform="rotate(-90 523.4 372.5)">Predicted</text>
<text x="679.7" y="418.1" font-size="8.2" text-anchor="end" fill="#000">Cor=0.953</text></svg>
</body></html>
